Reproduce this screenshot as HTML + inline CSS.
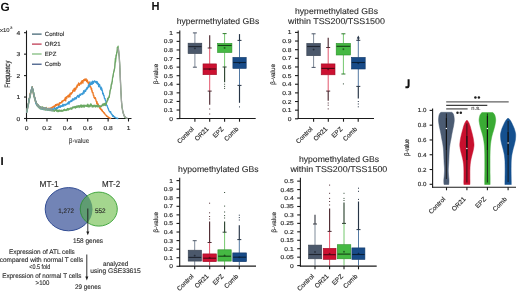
<!DOCTYPE html>
<html><head><meta charset="utf-8"><style>
html,body{margin:0;padding:0;background:#fff;}
body{width:520px;height:293px;overflow:hidden;}
svg{display:block;font-family:"Liberation Sans", sans-serif;text-rendering:geometricPrecision;-webkit-font-smoothing:antialiased;will-change:transform;}
</style></head><body>
<svg width="520" height="293" viewBox="0 0 520 293">
<rect width="520" height="293" fill="#fff"/>
<text font-size="11.8" fill="#111" transform="translate(0.5 10.7)" font-weight="bold">G</text>
<text font-size="5.5" fill="#2a2a2a" transform="translate(0 32) scale(1.08 1)" stroke="#2a2a2a" stroke-width="0.1">x10</text>
<text font-size="3.6" fill="#2a2a2a" transform="translate(10.2 29.4) scale(1.1 1)" stroke="#2a2a2a" stroke-width="0.08">3</text>
<line x1="26.5" y1="30.5" x2="26.5" y2="119" stroke="#1a1a1a" stroke-width="1.1"/>
<line x1="26" y1="118.5" x2="131.5" y2="118.5" stroke="#1a1a1a" stroke-width="1.1"/>
<line x1="24" y1="118.5" x2="26.5" y2="118.5" stroke="#1a1a1a" stroke-width="1.1"/>
<text font-size="5.8" fill="#2a2a2a" transform="translate(20.3 120.5) scale(1.15 1)" text-anchor="end" stroke="#2a2a2a" stroke-width="0.15">0</text>
<line x1="24" y1="97.05" x2="26.5" y2="97.05" stroke="#1a1a1a" stroke-width="1.1"/>
<text font-size="5.8" fill="#2a2a2a" transform="translate(20.3 99.05) scale(1.15 1)" text-anchor="end" stroke="#2a2a2a" stroke-width="0.15">1</text>
<line x1="24" y1="75.6" x2="26.5" y2="75.6" stroke="#1a1a1a" stroke-width="1.1"/>
<text font-size="5.8" fill="#2a2a2a" transform="translate(20.3 77.6) scale(1.15 1)" text-anchor="end" stroke="#2a2a2a" stroke-width="0.15">2</text>
<line x1="24" y1="54.15" x2="26.5" y2="54.15" stroke="#1a1a1a" stroke-width="1.1"/>
<text font-size="5.8" fill="#2a2a2a" transform="translate(20.3 56.15) scale(1.15 1)" text-anchor="end" stroke="#2a2a2a" stroke-width="0.15">3</text>
<line x1="24" y1="32.7" x2="26.5" y2="32.7" stroke="#1a1a1a" stroke-width="1.1"/>
<text font-size="5.8" fill="#2a2a2a" transform="translate(20.3 34.7) scale(1.15 1)" text-anchor="end" stroke="#2a2a2a" stroke-width="0.15">4</text>
<line x1="26.6" y1="118.5" x2="26.6" y2="121.5" stroke="#1a1a1a" stroke-width="1.1"/>
<text font-size="5.8" fill="#2a2a2a" transform="translate(26.6 130.2) scale(1.15 1)" text-anchor="middle" stroke="#2a2a2a" stroke-width="0.15">0</text>
<line x1="46.98" y1="118.5" x2="46.98" y2="121.5" stroke="#1a1a1a" stroke-width="1.1"/>
<text font-size="5.8" fill="#2a2a2a" transform="translate(46.98 130.2) scale(1.15 1)" text-anchor="middle" stroke="#2a2a2a" stroke-width="0.15">0.2</text>
<line x1="67.36" y1="118.5" x2="67.36" y2="121.5" stroke="#1a1a1a" stroke-width="1.1"/>
<text font-size="5.8" fill="#2a2a2a" transform="translate(67.36 130.2) scale(1.15 1)" text-anchor="middle" stroke="#2a2a2a" stroke-width="0.15">0.4</text>
<line x1="87.74" y1="118.5" x2="87.74" y2="121.5" stroke="#1a1a1a" stroke-width="1.1"/>
<text font-size="5.8" fill="#2a2a2a" transform="translate(87.74 130.2) scale(1.15 1)" text-anchor="middle" stroke="#2a2a2a" stroke-width="0.15">0.6</text>
<line x1="108.12" y1="118.5" x2="108.12" y2="121.5" stroke="#1a1a1a" stroke-width="1.1"/>
<text font-size="5.8" fill="#2a2a2a" transform="translate(108.12 130.2) scale(1.15 1)" text-anchor="middle" stroke="#2a2a2a" stroke-width="0.15">0.8</text>
<line x1="128.5" y1="118.5" x2="128.5" y2="121.5" stroke="#1a1a1a" stroke-width="1.1"/>
<text font-size="5.8" fill="#2a2a2a" transform="translate(128.5 130.2) scale(1.15 1)" text-anchor="middle" stroke="#2a2a2a" stroke-width="0.15">1</text>
<text font-size="7" fill="#2a2a2a" textLength="20.3" lengthAdjust="spacingAndGlyphs" transform="translate(79 143.2)" text-anchor="middle" stroke="#2a2a2a" stroke-width="0.05">β-value</text>
<text font-size="6.2" fill="#2a2a2a" textLength="27" lengthAdjust="spacingAndGlyphs" transform="translate(9.8 74.2) scale(1.25 1) rotate(-90)" text-anchor="middle" stroke="#2a2a2a" stroke-width="0.15">Frequency</text>
<path d="M26.6 111.98 L26.88 110.52 L27.16 109.31 L27.44 108.47 L27.72 106.45 L28.01 105.26 L28.29 104.27 L28.57 102.53 L28.85 101.26 L29.13 99.88 L29.41 98.56 L29.69 96.92 L29.97 96.11 L30.25 94.56 L30.53 93.53 L30.82 91.94 L31.1 91.05 L31.38 90.08 L31.66 89.35 L31.94 88.41 L32.22 88.04 L32.5 88.57 L32.78 88.72 L33.06 90.16 L33.34 93.37 L33.63 94.28 L33.91 94.6 L34.19 95.88 L34.47 96.81 L34.75 98.03 L35.03 98.41 L35.31 100.79 L35.59 101.42 L35.87 101.25 L36.15 102.47 L36.44 103.1 L36.72 104.12 L37 105.05 L37.28 104.88 L37.56 105.3 L37.84 106.08 L38.12 106.18 L38.4 106.24 L38.68 106.78 L38.96 106.73 L39.25 106.88 L39.53 107.1 L39.81 107.44 L40.09 107.25 L40.37 107.3 L40.65 107.6 L40.93 108.05 L41.21 107.66 L41.49 108.11 L41.77 107.76 L42.06 108.42 L42.34 107.87 L42.62 108.21 L42.9 108.63 L43.18 108.4 L43.46 108.33 L43.74 108.31 L44.02 108.74 L44.3 108.83 L44.58 108.49 L44.87 108.75 L45.15 108.61 L45.43 108.53 L45.71 109.31 L45.99 108.83 L46.27 108.63 L46.55 109.15 L46.83 109.38 L47.11 109.01 L47.39 109.23 L47.68 109.13 L47.96 109.56 L48.24 109.95 L48.52 109.63 L48.8 109.79 L49.08 109.5 L49.36 109.72 L49.64 110.28 L49.92 110.21 L50.2 109.69 L50.49 109.8 L50.77 110.21 L51.05 110.08 L51.33 110 L51.61 110.04 L51.89 109.97 L52.17 110.18 L52.45 110.31 L52.73 110.38 L53.01 110.06 L53.3 110.98 L53.58 110.43 L53.86 110.41 L54.14 110.83 L54.42 110.38 L54.7 110.67 L54.98 110.28 L55.26 110.57 L55.54 110.38 L55.82 110.26 L56.11 110.5 L56.39 110.86 L56.67 111.05 L56.95 110.2 L57.23 110.71 L57.51 110.88 L57.79 110.67 L58.07 110.78 L58.35 110.51 L58.63 110.74 L58.92 110.75 L59.2 110.95 L59.48 110.65 L59.76 111.05 L60.04 110.6 L60.32 110.37 L60.6 111.18 L60.88 111.41 L61.16 110.58 L61.44 110.04 L61.73 110.95 L62.01 110.99 L62.29 110.46 L62.57 110.8 L62.85 110.66 L63.13 110.57 L63.41 110.27 L63.69 110.47 L63.97 110.22 L64.25 110.28 L64.54 110.4 L64.82 110.19 L65.1 110.3 L65.38 109.97 L65.66 110.21 L65.94 110.14 L66.22 109.35 L66.5 109.71 L66.78 109.64 L67.06 109.41 L67.35 109.61 L67.63 109.49 L67.91 109.23 L68.19 109.2 L68.47 109.53 L68.75 108.87 L69.03 109.19 L69.31 109.23 L69.59 109.09 L69.87 108.84 L70.16 108.14 L70.44 108.87 L70.72 108.37 L71 108.96 L71.28 108.21 L71.56 107.83 L71.84 108.07 L72.12 108.09 L72.4 107.72 L72.68 107.48 L72.97 107.39 L73.25 106.89 L73.53 107.35 L73.81 107.51 L74.09 107.28 L74.37 107.19 L74.65 107.06 L74.93 107.04 L75.21 106.92 L75.49 107.46 L75.78 106.61 L76.06 107.01 L76.34 107.16 L76.62 106.53 L76.9 106.27 L77.18 106.49 L77.46 106.56 L77.74 106.87 L78.02 105.6 L78.31 106.21 L78.59 106.83 L78.87 106.68 L79.15 106.36 L79.43 106.87 L79.71 106.27 L79.99 106.45 L80.27 105.86 L80.55 105.92 L80.83 107.11 L81.12 106.17 L81.4 106.69 L81.68 105.77 L81.96 106.06 L82.24 105.91 L82.52 106.42 L82.8 105.44 L83.08 105.36 L83.36 106.36 L83.64 105.86 L83.93 106.19 L84.21 105.96 L84.49 106.35 L84.77 105.28 L85.05 106.21 L85.33 105.97 L85.61 105.68 L85.89 106.05 L86.17 105.9 L86.45 105.99 L86.74 105.83 L87.02 106.16 L87.3 105.9 L87.58 105.8 L87.86 105.83 L88.14 105.69 L88.42 105.79 L88.7 105.43 L88.98 105.78 L89.26 105.71 L89.55 105.88 L89.83 105.83 L90.11 106.07 L90.39 105.46 L90.67 106.02 L90.95 105.88 L91.23 105.51 L91.51 105.49 L91.79 105.77 L92.07 106.32 L92.36 105.51 L92.64 105.58 L92.92 106.16 L93.2 105.44 L93.48 105.95 L93.76 106.11 L94.04 105.72 L94.32 105.84 L94.6 105.73 L94.88 106.36 L95.17 105.24 L95.45 106.07 L95.73 106.41 L96.01 105.71 L96.29 106.06 L96.57 105.85 L96.85 106.09 L97.13 106.02 L97.41 105.93 L97.69 106.28 L97.98 105.81 L98.26 106.21 L98.54 106.34 L98.82 106.03 L99.1 105.91 L99.38 106.12 L99.66 106.31 L99.94 105.78 L100.22 106.53 L100.5 106.23 L100.79 105.81 L101.07 106.2 L101.35 105.65 L101.63 105.59 L101.91 105.17 L102.19 105.68 L102.47 105.48 L102.75 105.03 L103.03 105.87 L103.31 103.82 L103.6 105.01 L103.88 104.89 L104.16 104.2 L104.44 104.35 L104.72 104.77 L105 103.67 L105.28 103.33 L105.56 103.51 L105.84 103.13 L106.12 102.5 L106.41 102.66 L106.69 101.76 L106.97 101.43 L107.25 101.27 L107.53 100.99 L107.81 99.88 L108.09 99.45 L108.37 97.9 L108.65 97.44 L108.93 96.29 L109.22 95.66 L109.5 94.54 L109.78 93.81 L110.06 91.79 L110.34 89.82 L110.62 89.39 L110.9 88.06 L111.18 86.38 L111.46 85.11 L111.74 83.77 L112.03 81.81 L112.31 80.53 L112.59 77.98 L112.87 77.25 L113.15 75.45 L113.43 73.42 L113.71 72.54 L113.99 69.73 L114.27 69.33 L114.55 67.56 L114.84 65.21 L115.12 62.9 L115.4 61.69 L115.68 58.72 L115.96 58.1 L116.24 54.34 L116.52 54.1 L116.8 53.18 L117.08 52.09 L117.36 50.51 L117.65 49.41 L117.93 49.34 L118.21 48.89 L118.49 48.65 L118.77 50.67 L119.05 52.35 L119.33 55.5 L119.61 61.32 L119.89 68.12 L120.17 76.69 L120.46 81.82 L120.74 88.26 L121.02 93.66 L121.3 97.69 L121.58 102.36 L121.86 104.06 L122.14 106.82 L122.42 108.24 L122.7 110.42 L122.98 111.52 L123.27 112.54 L123.55 113.52 L123.83 114.56 L124.11 115.46 L124.39 115.96 L124.67 116.13 L124.95 116.58 L125.23 117.07 L125.51 116.97 L125.79 117.25 L126.08 117.43 L126.36 117.78 L126.64 117.88 L126.92 118.24 L127.2 118.29 L127.48 118.5" stroke="#a0a4a0" stroke-width="1.1" fill="none" stroke-linejoin="round" opacity="1"/>
<path d="M26.6 112.34 L26.84 111.03 L27.07 109.02 L27.31 108.38 L27.54 108.5 L27.78 106.49 L28.01 105.74 L28.25 104.16 L28.48 104.17 L28.72 101.86 L28.96 100.7 L29.19 98.56 L29.43 98.25 L29.66 96.91 L29.9 97.29 L30.13 93.24 L30.37 95.53 L30.61 92.12 L30.84 92.4 L31.08 91.9 L31.31 90.76 L31.55 89.9 L31.78 88.27 L32.02 88.26 L32.25 86.72 L32.49 90.04 L32.73 89.15 L32.96 90.94 L33.2 90.66 L33.43 94.27 L33.67 93.85 L33.9 94.34 L34.14 96.65 L34.37 95.74 L34.61 97.39 L34.85 97.79 L35.08 98.79 L35.32 101.05 L35.55 101.7 L35.79 101.95 L36.02 101.9 L36.26 102.4 L36.49 103.93 L36.73 104.34 L36.97 104.9 L37.2 105.17 L37.44 105.31 L37.67 105.56 L37.91 104.52 L38.14 106.27 L38.38 106.36 L38.62 106.15 L38.85 107.15 L39.09 107 L39.32 106.96 L39.56 106.7 L39.79 108 L40.03 106.66 L40.26 107.72 L40.5 107.54 L40.74 107.27 L40.97 107.45 L41.21 107.31 L41.44 107.86 L41.68 108.04 L41.91 107.92 L42.15 108.68 L42.38 107.57 L42.62 108.68 L42.86 108.99 L43.09 107.29 L43.33 108.49 L43.56 109.08 L43.8 107.53 L44.03 108.7 L44.27 108.01 L44.5 109.02 L44.74 108.74 L44.98 109.51 L45.21 109.65 L45.45 109.18 L45.68 108.73 L45.92 108.3 L46.15 107.47 L46.39 109.28 L46.63 108.24 L46.86 109.09 L47.1 108.87 L47.33 109.57 L47.57 109.58 L47.8 109.22 L48.04 109.45 L48.27 108.84 L48.51 109.2 L48.75 108.2 L48.98 108.77 L49.22 108.76 L49.45 108.23 L49.69 108.52 L49.92 108.75 L50.16 108.72 L50.39 108.66 L50.63 107.95 L50.87 108 L51.1 108.12 L51.34 107.78 L51.57 108.37 L51.81 107.69 L52.04 108.6 L52.28 106.97 L52.51 107.52 L52.75 107.34 L52.99 106.98 L53.22 107.18 L53.46 107.19 L53.69 106.25 L53.93 106.73 L54.16 107.2 L54.4 106.31 L54.64 107.42 L54.87 105.37 L55.11 106.3 L55.34 106.04 L55.58 104.63 L55.81 104.55 L56.05 105.62 L56.28 105.18 L56.52 104.77 L56.76 104.27 L56.99 105.22 L57.23 104.92 L57.46 104.11 L57.7 104.55 L57.93 104.1 L58.17 104.04 L58.4 104.97 L58.64 104.65 L58.88 105.62 L59.11 103.97 L59.35 102.81 L59.58 104.2 L59.82 102.55 L60.05 102.53 L60.29 103.05 L60.53 102.85 L60.76 102.63 L61 103.08 L61.23 102.52 L61.47 102.19 L61.7 101.58 L61.94 101.27 L62.17 102.12 L62.41 100.88 L62.65 101.78 L62.88 101.18 L63.12 100.62 L63.35 100.7 L63.59 100.58 L63.82 100.1 L64.06 100.48 L64.29 100.36 L64.53 99.84 L64.77 98.8 L65 99.36 L65.24 97.7 L65.47 98.71 L65.71 100.83 L65.94 98.77 L66.18 97.01 L66.41 98.02 L66.65 98.13 L66.89 98.24 L67.12 96.38 L67.36 96.39 L67.59 96.42 L67.83 96.39 L68.06 95.38 L68.3 95.63 L68.54 97 L68.77 95.21 L69.01 95.45 L69.24 95.43 L69.48 94.5 L69.71 94.84 L69.95 96.96 L70.18 93.11 L70.42 93.27 L70.66 93.95 L70.89 93.9 L71.13 93.15 L71.36 94.13 L71.6 92.55 L71.83 92.74 L72.07 92.58 L72.3 92.79 L72.54 92.32 L72.78 90.54 L73.01 90.08 L73.25 90.52 L73.48 90.73 L73.72 91.18 L73.95 89.54 L74.19 88.49 L74.42 91.06 L74.66 88.35 L74.9 91.04 L75.13 89.17 L75.37 88.28 L75.6 89.6 L75.84 89.49 L76.07 87.7 L76.31 86.81 L76.55 87.78 L76.78 85.86 L77.02 87.54 L77.25 84.94 L77.49 86.18 L77.72 85.81 L77.96 85.19 L78.19 85.2 L78.43 83.5 L78.67 82.9 L78.9 84.21 L79.14 84.63 L79.37 85.35 L79.61 84.71 L79.84 83.75 L80.08 83.63 L80.31 83.35 L80.55 83.09 L80.79 82.41 L81.02 84.02 L81.26 83.52 L81.49 81.24 L81.73 81.35 L81.96 82.54 L82.2 80.56 L82.43 82.33 L82.67 81.74 L82.91 83.13 L83.14 80.31 L83.38 81.01 L83.61 79.78 L83.85 80.01 L84.08 80.5 L84.32 80.33 L84.56 79.21 L84.79 80.52 L85.03 80.47 L85.26 80.24 L85.5 79.53 L85.73 79.48 L85.97 78.58 L86.2 80.72 L86.44 79.54 L86.68 81.66 L86.91 80.62 L87.15 81.34 L87.38 80.02 L87.62 81.43 L87.85 82.77 L88.09 82.09 L88.32 82.65 L88.56 83.64 L88.8 83.97 L89.03 84.95 L89.27 81.79 L89.5 84.65 L89.74 84.23 L89.97 86.63 L90.21 87 L90.45 86.65 L90.68 87.21 L90.92 86.96 L91.15 89.24 L91.39 88.54 L91.62 88.4 L91.86 91.24 L92.09 90.4 L92.33 92.71 L92.57 92.34 L92.8 93.04 L93.04 92.62 L93.27 95.24 L93.51 95.18 L93.74 95.08 L93.98 97.33 L94.21 96.97 L94.45 98.13 L94.69 98.52 L94.92 98 L95.16 98.49 L95.39 97.65 L95.63 99.01 L95.86 99.56 L96.1 101.04 L96.33 101.6 L96.57 101.76 L96.81 103.8 L97.04 101.66 L97.28 103.61 L97.51 104.27 L97.75 104.31 L97.98 103.89 L98.22 104.08 L98.46 105.46 L98.69 105.36 L98.93 106.04 L99.16 106.95 L99.4 106.64 L99.63 107.09 L99.87 108.3 L100.1 107.21 L100.34 108.98 L100.58 108.36 L100.81 109.35 L101.05 109.55 L101.28 109.8 L101.52 109.42 L101.75 110.69 L101.99 110.48 L102.22 109.97 L102.46 111.31 L102.7 111.3 L102.93 111.29 L103.17 112.12 L103.4 111.95 L103.64 112.71 L103.87 112.43 L104.11 112.97 L104.34 113.64 L104.58 113.03 L104.82 113.88 L105.05 114.23 L105.29 114.74 L105.52 114.86 L105.76 115.02 L105.99 115.21 L106.23 115.2 L106.47 116.17 L106.7 116.13 L106.94 115.95 L107.17 116.45 L107.41 116.6 L107.64 116.52 L107.88 116.98 L108.11 117.11 L108.35 117.35 L108.59 117.13 L108.82 117.41 L109.06 117.86 L109.29 117.76 L109.53 118.15 L109.76 117.91 L110 118.08 L110.23 118.28 L110.47 118.39 L110.71 118.5 L110.94 118.37 L111.18 118.5" stroke="#ed7a26" stroke-width="1.3" fill="none" stroke-linejoin="round" opacity="1"/>
<path d="M26.6 111.2 L26.86 112.03 L27.11 109.44 L27.37 108.73 L27.62 107.48 L27.88 106.14 L28.13 106.04 L28.39 103.74 L28.64 102.96 L28.9 98.87 L29.15 99.7 L29.41 98.83 L29.67 97.49 L29.92 96.54 L30.18 95.67 L30.43 94.04 L30.69 92.32 L30.94 91.91 L31.2 89.82 L31.45 89.82 L31.71 88.78 L31.96 86.85 L32.22 87.55 L32.48 88.82 L32.73 89.33 L32.99 89.82 L33.24 89.91 L33.5 93.04 L33.75 94.11 L34.01 94.14 L34.26 96.71 L34.52 97.35 L34.77 97.57 L35.03 98.86 L35.29 100.19 L35.54 100.66 L35.8 103.73 L36.05 101.79 L36.31 103.68 L36.56 104.68 L36.82 103.96 L37.07 104.17 L37.33 105.28 L37.58 106.01 L37.84 105.65 L38.1 105.95 L38.35 105.36 L38.61 105.97 L38.86 106.51 L39.12 106.19 L39.37 107.12 L39.63 107.69 L39.88 107.01 L40.14 107.15 L40.39 107.71 L40.65 108.12 L40.91 107.66 L41.16 109.21 L41.42 107.57 L41.67 107.74 L41.93 108.94 L42.18 108.09 L42.44 108.69 L42.69 107.83 L42.95 109.35 L43.2 108.8 L43.46 107.99 L43.72 107.8 L43.97 109.58 L44.23 108.76 L44.48 108.37 L44.74 108.91 L44.99 107.82 L45.25 109.32 L45.5 108.58 L45.76 109.37 L46.01 108.18 L46.27 108.99 L46.53 109.24 L46.78 109.99 L47.04 108.33 L47.29 108.87 L47.55 108.93 L47.8 108.79 L48.06 109.23 L48.31 109.76 L48.57 109.87 L48.82 109.89 L49.08 108.81 L49.34 110.22 L49.59 109.78 L49.85 109.64 L50.1 109.35 L50.36 109.17 L50.61 110.06 L50.87 110.29 L51.12 109.4 L51.38 108.77 L51.64 108.98 L51.89 109.22 L52.15 109.46 L52.4 109.13 L52.66 109.37 L52.91 108.8 L53.17 109.59 L53.42 109.09 L53.68 109.18 L53.93 108.81 L54.19 108.94 L54.45 107.71 L54.7 108.19 L54.96 108.13 L55.21 109.88 L55.47 108.93 L55.72 108.98 L55.98 108.3 L56.23 109.68 L56.49 107.76 L56.74 107.71 L57 108.86 L57.26 108.58 L57.51 108.37 L57.77 107.8 L58.02 107.36 L58.28 106.47 L58.53 107.57 L58.79 106.92 L59.04 107.14 L59.3 106.13 L59.55 106.58 L59.81 106.11 L60.07 107.38 L60.32 106.77 L60.58 107.02 L60.83 105.59 L61.09 105.97 L61.34 106.42 L61.6 106.4 L61.85 105.75 L62.11 106.34 L62.36 106.37 L62.62 105.43 L62.88 104.15 L63.13 105.65 L63.39 105.73 L63.64 105.99 L63.9 105.98 L64.15 104.75 L64.41 104.44 L64.66 104.84 L64.92 104.53 L65.17 104.55 L65.43 104.42 L65.69 105.33 L65.94 104.55 L66.2 104.08 L66.45 104.52 L66.71 104.21 L66.96 104.3 L67.22 103.87 L67.47 102.98 L67.73 103.66 L67.98 103.36 L68.24 102.61 L68.5 102.58 L68.75 101.75 L69.01 104.07 L69.26 102 L69.52 102.73 L69.77 102.17 L70.03 101.55 L70.28 101.22 L70.54 101.09 L70.79 101.52 L71.05 100.36 L71.31 101.48 L71.56 101.21 L71.82 100.39 L72.07 101.15 L72.33 99.1 L72.58 99.71 L72.84 98.72 L73.09 100.08 L73.35 100.15 L73.6 99.58 L73.86 99 L74.12 99.76 L74.37 98.88 L74.63 98.98 L74.88 97.61 L75.14 99.09 L75.39 97.65 L75.65 98.71 L75.9 98.77 L76.16 98.4 L76.41 98.58 L76.67 97.4 L76.93 96.54 L77.18 97.01 L77.44 96.48 L77.69 95.52 L77.95 96.37 L78.2 96.24 L78.46 96.41 L78.71 97.26 L78.97 95.23 L79.22 97 L79.48 94.92 L79.74 95.24 L79.99 94.14 L80.25 94.89 L80.5 95.29 L80.76 94.14 L81.01 94.67 L81.27 94.16 L81.52 93.77 L81.78 93.7 L82.03 93.53 L82.29 93.84 L82.55 93.09 L82.8 94.48 L83.06 92.61 L83.31 93.25 L83.57 91.08 L83.82 90.7 L84.08 93.17 L84.33 91.13 L84.59 91.08 L84.84 91.6 L85.1 89.94 L85.36 90.51 L85.61 91.36 L85.87 89.74 L86.12 89.34 L86.38 88.8 L86.63 89.69 L86.89 87.74 L87.14 87.32 L87.4 88.73 L87.65 87.99 L87.91 87.18 L88.17 87.34 L88.42 84.94 L88.68 86.08 L88.93 86.96 L89.19 86.51 L89.44 85.59 L89.7 83.16 L89.95 85.27 L90.21 84.76 L90.46 84.17 L90.72 84.47 L90.98 82.02 L91.23 84.47 L91.49 83.02 L91.74 83.36 L92 82.69 L92.25 84.23 L92.51 81.17 L92.76 82.83 L93.02 82.51 L93.27 83.32 L93.53 82.99 L93.79 81.62 L94.04 81.13 L94.3 81.31 L94.55 80.84 L94.81 81.35 L95.06 82.07 L95.32 81.35 L95.57 81.7 L95.83 82.51 L96.09 81.85 L96.34 81.48 L96.6 82.7 L96.85 83.49 L97.11 82.68 L97.36 81.78 L97.62 84.06 L97.87 84.21 L98.13 84.51 L98.38 83.49 L98.64 86.66 L98.9 84.85 L99.15 84.36 L99.41 86.54 L99.66 84.74 L99.92 86 L100.17 87.4 L100.43 87.13 L100.68 89.15 L100.94 88.74 L101.19 87.1 L101.45 90.03 L101.71 88.15 L101.96 90.39 L102.22 90.03 L102.47 91.42 L102.73 93.94 L102.98 93.13 L103.24 93.14 L103.49 94.95 L103.75 95.87 L104 95.34 L104.26 96.98 L104.52 98.63 L104.77 98.73 L105.03 98.45 L105.28 100.26 L105.54 100.19 L105.79 100.73 L106.05 102.67 L106.3 104.32 L106.56 105.27 L106.81 105.28 L107.07 105.47 L107.33 106.46 L107.58 106.92 L107.84 108.04 L108.09 108.19 L108.35 109.12 L108.6 109.55 L108.86 110.5 L109.11 111.09 L109.37 111.01 L109.62 111.71 L109.88 112.05 L110.14 111.74 L110.39 112.46 L110.65 111.63 L110.9 112.81 L111.16 113.77 L111.41 113.6 L111.67 114.09 L111.92 114.77 L112.18 114.48 L112.43 115.38 L112.69 116.34 L112.95 115.44 L113.2 116.09 L113.46 115.74 L113.71 116.54 L113.97 116.89 L114.22 116.45 L114.48 117.26 L114.73 117.17 L114.99 117.11 L115.24 117.55 L115.5 117.74 L115.76 117.84 L116.01 117.84 L116.27 118.19 L116.52 118.06 L116.78 118.15 L117.03 118 L117.29 118.4 L117.54 118.5 L117.8 118.38 L118.05 118.5 L118.31 118.47" stroke="#3a9ad6" stroke-width="1.3" fill="none" stroke-linejoin="round" opacity="1"/>
<path d="M26.6 111.97 L26.88 111.02 L27.16 109.67 L27.43 109.6 L27.71 105.63 L27.99 104.7 L28.27 104.39 L28.55 102.27 L28.83 101.29 L29.1 100.57 L29.38 97.9 L29.66 97.58 L29.94 96.24 L30.22 95.38 L30.49 93.04 L30.77 92.49 L31.05 90.73 L31.33 90.72 L31.61 88.99 L31.89 89.29 L32.16 87.18 L32.44 88.1 L32.72 88.8 L33 89.94 L33.28 92.7 L33.55 92.34 L33.83 92.33 L34.11 96.84 L34.39 98.08 L34.67 99.05 L34.95 98.24 L35.22 99.92 L35.5 100.14 L35.78 101.24 L36.06 102.32 L36.34 102.92 L36.61 103.85 L36.89 103.66 L37.17 105.55 L37.45 105.48 L37.73 105.37 L38 104.62 L38.28 106.61 L38.56 107.07 L38.84 106.97 L39.12 106.19 L39.4 107.17 L39.67 106.36 L39.95 108.55 L40.23 106.81 L40.51 107 L40.79 108.63 L41.06 107.74 L41.34 107.17 L41.62 107.94 L41.9 107.45 L42.18 106.67 L42.46 108.01 L42.73 108.39 L43.01 108.74 L43.29 107.93 L43.57 108.49 L43.85 108.52 L44.12 108.53 L44.4 108.13 L44.68 109.21 L44.96 109.55 L45.24 110.15 L45.52 108.07 L45.79 108.81 L46.07 108.04 L46.35 109.01 L46.63 109.52 L46.91 108.89 L47.18 109.29 L47.46 110.04 L47.74 109.91 L48.02 108.47 L48.3 109.34 L48.58 109.38 L48.85 109.83 L49.13 110.12 L49.41 109.28 L49.69 109.89 L49.97 110.31 L50.24 110.01 L50.52 110.49 L50.8 109.93 L51.08 109.46 L51.36 110.59 L51.64 109.39 L51.91 110.58 L52.19 110.17 L52.47 110.74 L52.75 110.44 L53.03 110.32 L53.3 110.6 L53.58 110.77 L53.86 110.78 L54.14 110.89 L54.42 111.31 L54.69 110.63 L54.97 110.3 L55.25 110.05 L55.53 110.21 L55.81 109.27 L56.09 110.43 L56.36 110.87 L56.64 109.65 L56.92 111.22 L57.2 110.16 L57.48 111.2 L57.75 110.52 L58.03 111.77 L58.31 110.26 L58.59 110.83 L58.87 111.27 L59.15 109.88 L59.42 110.37 L59.7 110.75 L59.98 111.17 L60.26 110.8 L60.54 110.86 L60.81 110.38 L61.09 110.32 L61.37 111.08 L61.65 110.99 L61.93 110.95 L62.21 111.35 L62.48 110.9 L62.76 110.59 L63.04 110.12 L63.32 109.72 L63.6 110.82 L63.87 110.02 L64.15 110.5 L64.43 109.06 L64.71 110.16 L64.99 109.79 L65.27 110.52 L65.54 110.38 L65.82 109.75 L66.1 110.01 L66.38 109.53 L66.66 110.54 L66.93 109.22 L67.21 110.04 L67.49 108.48 L67.77 109.56 L68.05 108.69 L68.33 110.04 L68.6 108.91 L68.88 109.58 L69.16 109.26 L69.44 108.86 L69.72 108.97 L69.99 108.53 L70.27 108.14 L70.55 108.09 L70.83 108.43 L71.11 109.1 L71.38 108.66 L71.66 108.18 L71.94 109.26 L72.22 107.39 L72.5 107.91 L72.78 107.82 L73.05 106.97 L73.33 107.06 L73.61 107.25 L73.89 107.94 L74.17 107.03 L74.44 106.93 L74.72 107.64 L75 106.35 L75.28 106.63 L75.56 108.17 L75.84 106.78 L76.11 107.63 L76.39 106.04 L76.67 106.21 L76.95 107.4 L77.23 107.22 L77.5 106.54 L77.78 106.72 L78.06 105.53 L78.34 106.01 L78.62 106.64 L78.9 106.04 L79.17 107.72 L79.45 106.15 L79.73 105.75 L80.01 106.41 L80.29 106.73 L80.56 105.86 L80.84 104.91 L81.12 106.05 L81.4 106.9 L81.68 105.18 L81.96 107.36 L82.23 105.76 L82.51 106.46 L82.79 105.43 L83.07 106.59 L83.35 105.13 L83.62 105.79 L83.9 107.12 L84.18 107.27 L84.46 106.14 L84.74 105.05 L85.02 105.81 L85.29 105.83 L85.57 106.01 L85.85 105.34 L86.13 105.57 L86.41 105.61 L86.68 106.45 L86.96 104.97 L87.24 104.84 L87.52 106.61 L87.8 104.17 L88.07 105.22 L88.35 106.03 L88.63 106.97 L88.91 105.23 L89.19 105.29 L89.47 106.06 L89.74 106.86 L90.02 104.88 L90.3 106.04 L90.58 105.95 L90.86 103.71 L91.13 104.19 L91.41 104.99 L91.69 105.94 L91.97 105.2 L92.25 107.19 L92.53 105.59 L92.8 106.19 L93.08 106.56 L93.36 106.77 L93.64 105.37 L93.92 105.69 L94.19 105.66 L94.47 105.22 L94.75 106.38 L95.03 106.66 L95.31 107.05 L95.59 106.11 L95.86 105.4 L96.14 106.03 L96.42 105.52 L96.7 106.76 L96.98 106.3 L97.25 106.52 L97.53 106.85 L97.81 104.8 L98.09 105.48 L98.37 106.56 L98.65 106.57 L98.92 106.1 L99.2 107.01 L99.48 105.75 L99.76 106.87 L100.04 106.22 L100.31 106.61 L100.59 106.19 L100.87 106.69 L101.15 106.78 L101.43 106.29 L101.71 106.01 L101.98 105.65 L102.26 105.3 L102.54 104.19 L102.82 104.56 L103.1 105.17 L103.37 104.37 L103.65 105.22 L103.93 103.6 L104.21 104.08 L104.49 105.26 L104.76 103.56 L105.04 103.27 L105.32 105.55 L105.6 103.85 L105.88 103.34 L106.16 104.09 L106.43 103.08 L106.71 102.61 L106.99 101.07 L107.27 100.73 L107.55 98.3 L107.82 100.08 L108.1 98.1 L108.38 98.23 L108.66 97.25 L108.94 97.64 L109.22 97.42 L109.49 95.37 L109.77 92.76 L110.05 90.64 L110.33 90.16 L110.61 88.8 L110.88 88.71 L111.16 84.78 L111.44 83.52 L111.72 84.1 L112 82.09 L112.28 81.68 L112.55 77.29 L112.83 76.97 L113.11 75.99 L113.39 73.76 L113.67 72.06 L113.94 71.47 L114.22 70.86 L114.5 69.13 L114.78 67.84 L115.06 62.83 L115.34 58.31 L115.61 61.86 L115.89 57.34 L116.17 55.2 L116.45 55.67 L116.73 52.16 L117 52.41 L117.28 47.31 L117.56 48.86 L117.84 47.04 L118.12 46.16 L118.4 49.43 L118.67 54.12 L118.95 55.24 L119.23 56.59 L119.51 61.9 L119.79 66.23 L120.06 73.11 L120.34 78.07 L120.62 84.64 L120.9 91.33 L121.18 94.62 L121.45 100.87 L121.73 104.99 L122.01 107.77 L122.29 108.1 L122.57 110.58 L122.85 111.55 L123.12 113.05 L123.4 113.55 L123.68 114.49 L123.96 115.74 L124.24 116.09 L124.51 116.34 L124.79 117.35 L125.07 117.04 L125.35 117.43 L125.63 117.78 L125.91 118.23 L126.18 118.34 L126.46 118.5" stroke="#6aaa62" stroke-width="1.2" fill="none" stroke-linejoin="round" opacity="1"/>
<path d="M118 47.72 L118.03 47.8 L118.06 47.9 L118.08 48 L118.11 48.11 L118.14 48.23 L118.16 48.35 L118.19 48.48 L118.22 48.62 L118.24 48.76 L118.27 48.91 L118.29 49.07 L118.32 49.23 L118.35 49.4 L118.37 49.58 L118.4 49.76 L118.43 49.94 L118.45 50.13 L118.48 50.33 L118.51 50.53 L118.53 50.74 L118.56 50.95 L118.59 51.16 L118.61 51.38 L118.64 51.6 L118.66 51.83 L118.69 52.06 L118.72 52.29 L118.74 52.53 L118.77 52.77 L118.8 53.02 L118.82 53.26 L118.85 53.51 L118.88 53.77 L118.9 54.02 L118.93 54.28 L118.95 54.54 L118.98 54.8 L119.01 55.06 L119.03 55.33 L119.06 55.6 L119.09 55.89 L119.11 56.19 L119.14 56.49 L119.17 56.81 L119.19 57.14 L119.22 57.47 L119.24 57.82 L119.27 58.17 L119.3 58.54 L119.32 58.91 L119.35 59.29 L119.38 59.68 L119.4 60.07 L119.43 60.47 L119.46 60.89 L119.48 61.3 L119.51 61.73 L119.54 62.16 L119.56 62.59 L119.59 63.04 L119.61 63.48 L119.64 63.94 L119.67 64.4 L119.69 64.86 L119.72 65.33 L119.75 65.8 L119.77 66.28 L119.8 66.76 L119.83 67.24 L119.85 67.73 L119.88 68.22 L119.9 68.71 L119.93 69.21 L119.96 69.7 L119.98 70.2 L120.01 70.7 L120.04 71.21 L120.06 71.72 L120.09 72.25 L120.12 72.81 L120.14 73.39 L120.17 73.98 L120.2 74.59 L120.22 75.22 L120.25 75.86 L120.27 76.52 L120.3 77.18 L120.33 77.85 L120.35 78.53 L120.38 79.22 L120.41 79.9 L120.43 80.59 L120.46 81.29 L120.49 81.97 L120.51 82.66 L120.54 83.34 L120.56 84.02 L120.59 84.69 L120.62 85.35 L120.64 85.99 L120.67 86.63 L120.7 87.25 L120.72 87.85 L120.75 88.44 L120.78 89.01 L120.8 89.55 L120.83 90.07 L120.86 90.57 L120.88 91.06 L120.91 91.54 L120.93 92.02 L120.96 92.5 L120.99 92.98 L121.01 93.45 L121.04 93.92 L121.07 94.39 L121.09 94.86 L121.12 95.32 L121.15 95.78 L121.17 96.24 L121.2 96.68 L121.22 97.13 L121.25 97.57 L121.28 98 L121.3 98.43 L121.33 98.85 L121.36 99.27 L121.38 99.68 L121.41 100.08 L121.44 100.47 L121.46 100.86 L121.49 101.23 L121.52 101.6 L121.54 101.96 L121.57 102.32 L121.59 102.66 L121.62 102.99 L121.65 103.31 L121.67 103.62 L121.7 103.92 L121.73 104.21 L121.75 104.49 L121.78 104.76 L121.81 105.01 L121.83 105.25 L121.86 105.48 L121.88 105.7 L121.91 105.91 L121.94 106.12 L121.96 106.32 L121.99 106.52 L122.02 106.72 L122.04 106.92 L122.07 107.12 L122.1 107.31 L122.12 107.5 L122.15 107.69 L122.18 107.87 L122.2 108.05 L122.23 108.23 L122.25 108.41 L122.28 108.58 L122.31 108.75 L122.33 108.92 L122.36 109.09 L122.39 109.25 L122.41 109.41 L122.44 109.57 L122.47 109.73 L122.49 109.88 L122.52 110.03 L122.54 110.18 L122.57 110.33 L122.6 110.47 L122.62 110.61 L122.65 110.75 L122.68 110.89 L122.7 111.02 L122.73 111.15 L122.76 111.28 L122.78 111.41 L122.81 111.54 L122.84 111.66 L122.86 111.78 L122.89 111.9 L122.91 112.01 L122.94 112.13 L122.97 112.24 L122.99 112.35 L123.02 112.46 L123.05 112.56 L123.07 112.67 L123.1 112.77 L123.13 112.86 L123.15 112.96 L123.18 113.06 L123.2 113.15 L123.23 113.24 L123.26 113.33 L123.28 113.41 L123.31 113.5 L123.34 113.58 L123.36 113.66 L123.39 113.74 L123.42 113.81 L123.44 113.89 L123.47 113.96 L123.49 114.03 L123.52 114.11 L123.55 114.18 L123.57 114.25 L123.6 114.32 L123.63 114.39 L123.65 114.46 L123.68 114.53 L123.71 114.59 L123.73 114.66 L123.76 114.72 L123.79 114.79 L123.81 114.85 L123.84 114.92 L123.86 114.98 L123.89 115.04 L123.92 115.1 L123.94 115.16 L123.97 115.22 L124 115.28 L124.02 115.33 L124.05 115.39 L124.08 115.44 L124.1 115.5 L124.13 115.55 L124.15 115.61 L124.18 115.66 L124.21 115.71 L124.23 115.76 L124.26 115.81 L124.29 115.86 L124.31 115.9 L124.34 115.95 L124.37 116 L124.39 116.04 L124.42 116.09 L124.45 116.13 L124.47 116.17 L124.5 116.22 L124.52 116.26 L124.55 116.3 L124.58 116.34 L124.6 116.38 L124.63 116.41 L124.66 116.45 L124.68 116.49 L124.71 116.52 L124.74 116.56 L124.76 116.59 L124.79 116.62 L124.81 116.65 L124.84 116.68 L124.87 116.71 L124.89 116.74 L124.92 116.77 L124.95 116.8 L124.97 116.82 L125 116.85 L125.03 116.88 L125.05 116.9 L125.08 116.93 L125.11 116.95 L125.13 116.97 L125.16 117 L125.18 117.02 L125.21 117.04 L125.24 117.06 L125.26 117.09 L125.29 117.11 L125.32 117.13 L125.34 117.15 L125.37 117.17 L125.4 117.19 L125.42 117.21 L125.45 117.23 L125.47 117.24 L125.5 117.26 L125.53 117.28 L125.55 117.3 L125.58 117.32 L125.61 117.33 L125.63 117.35 L125.66 117.37 L125.69 117.38 L125.71 117.4 L125.74 117.42 L125.77 117.43 L125.79 117.45 L125.82 117.47 L125.84 117.48 L125.87 117.5 L125.9 117.51 L125.92 117.53 L125.95 117.54 L125.98 117.56 L126 117.58 L126.03 117.59 L126.06 117.61 L126.08 117.62 L126.11 117.64 L126.13 117.65 L126.16 117.67 L126.19 117.68 L126.21 117.7 L126.24 117.72 L126.27 117.73 L126.29 117.75 L126.32 117.77 L126.35 117.78 L126.37 117.8 L126.4 117.82 L126.43 117.83 L126.45 117.85 L126.48 117.87 L126.5 117.88 L126.53 117.9 L126.56 117.92 L126.58 117.94 L126.61 117.95 L126.64 117.97 L126.66 117.99 L126.69 118.01 L126.72 118.02 L126.74 118.04 L126.77 118.06 L126.79 118.07 L126.82 118.09 L126.85 118.11 L126.87 118.12 L126.9 118.14 L126.93 118.16 L126.95 118.17 L126.98 118.19 L127.01 118.21 L127.03 118.22 L127.06 118.24 L127.09 118.26 L127.11 118.27 L127.14 118.29 L127.16 118.31 L127.19 118.32 L127.22 118.34 L127.24 118.36 L127.27 118.37 L127.3 118.39 L127.32 118.4 L127.35 118.42 L127.38 118.44 L127.4 118.45 L127.43 118.47 L127.45 118.48 L127.48 118.5" stroke="#a2a6a2" stroke-width="1.3" fill="none" stroke-linejoin="round" opacity="1"/>
<path d="M26.6 112.85 L26.67 112.59 L26.75 112.05 L26.82 111.58 L26.9 111.09 L26.97 110.94 L27.04 110.72 L27.12 110.42 L27.19 109.76 L27.26 109.22 L27.34 109.15 L27.41 109.14 L27.49 108.73 L27.56 107.8 L27.63 107.77 L27.71 107.87 L27.78 107.14 L27.85 107.05 L27.93 106.57 L28 106.19 L28.08 105.9 L28.15 105.23 L28.22 105.04 L28.3 104.82 L28.37 104.21 L28.44 103.75 L28.52 104.07 L28.59 103.34 L28.67 103.19 L28.74 102.62 L28.81 102.57 L28.89 101.84 L28.96 101.49 L29.04 101.2 L29.11 101.05 L29.18 100.48 L29.26 100.32 L29.33 100.03 L29.4 99.17 L29.48 99.21 L29.55 98.13 L29.63 97.9 L29.7 98.39 L29.77 97.3 L29.85 97.39 L29.92 96.66 L29.99 96.3 L30.07 96.63 L30.14 95.71 L30.22 95.38 L30.29 94.64 L30.36 95.05 L30.44 94.09 L30.51 94.42 L30.59 93.86 L30.66 93.76 L30.73 92.68 L30.81 92.7 L30.88 91.74 L30.95 92.07 L31.03 91.69 L31.1 91.38 L31.18 91.6 L31.25 91.11 L31.32 90.29 L31.4 90.65 L31.47 90.15 L31.54 89.97 L31.62 89.49 L31.69 89.63 L31.77 89.35 L31.84 89.03 L31.91 88.93 L31.99 89.17 L32.06 88.41 L32.13 89.2 L32.21 89.14 L32.28 89.2 L32.36 88.42 L32.43 89.05 L32.5 89.45 L32.58 89.72 L32.65 89.37 L32.73 90.19 L32.8 90.56 L32.87 90.18 L32.95 91.18 L33.02 91.21 L33.09 91.46 L33.17 91.99 L33.24 92.22 L33.32 92.09 L33.39 93.12 L33.46 93.74 L33.54 94.29 L33.61 94.05 L33.68 94.41 L33.76 94.48 L33.83 95.02 L33.91 95.32 L33.98 95.71 L34.05 95.94 L34.13 96.03 L34.2 96.52 L34.28 96.68 L34.35 96.41 L34.42 97.2 L34.5 98.18 L34.57 97.44 L34.64 98.2 L34.72 98.92 L34.79 98.66 L34.87 99.24 L34.94 99.74 L35.01 100.05 L35.09 100.45 L35.16 100.42 L35.23 100.39 L35.31 101.07 L35.38 101.11 L35.46 100.94 L35.53 102.07 L35.6 101.88 L35.68 102.25 L35.75 102.66 L35.82 102.84 L35.9 102.74 L35.97 102.8 L36.05 103.24 L36.12 103.26 L36.19 103.25 L36.27 103.54 L36.34 103.55 L36.42 103.82 L36.49 103.98 L36.56 103.78 L36.64 104.25 L36.71 104.53 L36.78 104.53 L36.86 105.09 L36.93 105.08 L37.01 104.92 L37.08 105.09 L37.15 104.98 L37.23 105.5 L37.3 105.98 L37.37 105.23 L37.45 105.55 L37.52 106.2 L37.6 105.68 L37.67 106.11 L37.74 106.65 L37.82 106.39 L37.89 106.49 L37.97 106.05 L38.04 106.7 L38.11 106.65 L38.19 106.72 L38.26 106.82 L38.33 107.02 L38.41 106.81 L38.48 106.67 L38.56 106.85 L38.63 107.29 L38.7 107.4 L38.78 107.16 L38.85 107.42 L38.92 107.46 L39 107.77 L39.07 106.97 L39.15 107.27 L39.22 107.77 L39.29 107.38 L39.37 107.33 L39.44 108.25 L39.51 107.87 L39.59 107.88 L39.66 107.69 L39.74 107.91 L39.81 107.98 L39.88 107.99 L39.96 107.59 L40.03 107.56 L40.11 108.21 L40.18 108.34 L40.25 107.55 L40.33 108.43 L40.4 108.37 L40.47 108.26 L40.55 108.19 L40.62 108.1 L40.7 108.27 L40.77 108.58 L40.84 108.3 L40.92 108.38 L40.99 108.04 L41.06 108.49 L41.14 108.81 L41.21 108.76 L41.29 108.22 L41.36 108.69 L41.43 109.06 L41.51 108.74 L41.58 108.63 L41.66 108.39 L41.73 108.9 L41.8 108.54 L41.88 108.53 L41.95 108.88 L42.02 108.78 L42.1 108.37 L42.17 108.39 L42.25 108.6 L42.32 108.73 L42.39 108.57 L42.47 108.87 L42.54 108.88 L42.61 109.06 L42.69 108.88 L42.76 108.92 L42.84 108.3 L42.91 108.97 L42.98 108.66 L43.06 108.66 L43.13 109.01 L43.2 108.72 L43.28 109.47 L43.35 108.99 L43.43 108.83 L43.5 109.56 L43.57 109.3 L43.65 108.83 L43.72 109.12 L43.8 109.32 L43.87 109.17 L43.94 109.22 L44.02 108.96 L44.09 109.03 L44.16 109.2 L44.24 109.3 L44.31 109.18 L44.39 108.89 L44.46 109.12 L44.53 109.07 L44.61 109.25 L44.68 109.51 L44.75 109.4 L44.83 109.12 L44.9 109.25 L44.98 109.48 L45.05 109.64 L45.12 109.29 L45.2 109.4 L45.27 109.41 L45.35 109.42 L45.42 109.3 L45.49 109.31 L45.57 109.18 L45.64 109.2 L45.71 109.12 L45.79 109.25 L45.86 109.51 L45.94 109.46 L46.01 109.35 L46.08 109.54 L46.16 109.36 L46.23 109.25 L46.3 109.68 L46.38 109.89 L46.45 109.27 L46.53 109.54 L46.6 109.4 L46.67 109.85 L46.75 109.21 L46.82 109.43 L46.89 109.62 L46.97 109.68 L47.04 109.6 L47.12 109.67 L47.19 109.7 L47.26 109.89 L47.34 109.4 L47.41 109.68 L47.49 109.67 L47.56 109.68 L47.63 110.21 L47.71 109.61 L47.78 109.8 L47.85 109.8 L47.93 109.74 L48 109.97 L48.08 109.6 L48.15 109.93 L48.22 109.99 L48.3 109.99 L48.37 109.79 L48.44 109.67 L48.52 109.97 L48.59 110.17 L48.67 109.64 L48.74 110.1 L48.81 109.64 L48.89 109.91 L48.96 110.06 L49.04 110.06 L49.11 109.84 L49.18 109.76 L49.26 110 L49.33 109.77 L49.4 109.55 L49.48 110.04 L49.55 110.24 L49.63 110.23 L49.7 110.32 L49.77 110.17 L49.85 110.2 L49.92 110.34 L49.99 109.96 L50.07 110.63 L50.14 110.37 L50.22 109.69 L50.29 109.91 L50.36 110.02 L50.44 110.05 L50.51 109.79 L50.58 110.06 L50.66 110.16 L50.73 110.44 L50.81 110.22 L50.88 110.36 L50.95 110.37 L51.03 110.38 L51.1 110.26 L51.18 110.33 L51.25 110.09 L51.32 110.55 L51.4 110.33 L51.47 109.93 L51.54 110.31 L51.62 110.09 L51.69 110.11 L51.77 110.09 L51.84 110.22 L51.91 110.66 L51.99 110.44 L52.06 110.48 L52.13 110.73 L52.21 110.52 L52.28 110.69 L52.36 110.78 L52.43 110.42 L52.5 110.48 L52.58 110.62 L52.65 110.69 L52.73 110.61 L52.8 110.6 L52.87 110.61 L52.95 110.55 L53.02 110.64 L53.09 110.49" stroke="#7fa596" stroke-width="1.4" fill="none" stroke-linejoin="round" opacity="0.9"/>
<path d="M26.6 111.44 L26.67 110.95 L26.75 111.44 L26.82 110.62 L26.9 110.03 L26.97 109.61 L27.04 109.4 L27.12 108.86 L27.19 108.78 L27.26 108.37 L27.34 108.1 L27.41 108.04 L27.49 107.64 L27.56 107 L27.63 106.88 L27.71 106.08 L27.78 105.72 L27.85 105.24 L27.93 105.35 L28 104.64 L28.08 104.88 L28.15 104.51 L28.22 103.92 L28.3 103.52 L28.37 103.69 L28.44 103.38 L28.52 102.45 L28.59 102.44 L28.67 101.5 L28.74 101.38 L28.81 101.05 L28.89 100.71 L28.96 100.14 L29.04 100.08 L29.11 99.33 L29.18 99.45 L29.26 98.99 L29.33 98.76 L29.4 97.98 L29.48 97.78 L29.55 97.7 L29.63 96.4 L29.7 96.8 L29.77 96.35 L29.85 95.82 L29.92 95.01 L29.99 95.3 L30.07 94.66 L30.14 94.52 L30.22 94.73 L30.29 93.62 L30.36 93.22 L30.44 93.35 L30.51 92.97 L30.59 93.21 L30.66 92.94 L30.73 92.26 L30.81 91.6 L30.88 91.7 L30.95 91.12 L31.03 90.57 L31.1 90.58 L31.18 90.1 L31.25 89.47 L31.32 90.18 L31.4 89.15 L31.47 89.87 L31.54 88.73 L31.62 88.57 L31.69 88.63 L31.77 88.64 L31.84 88.07 L31.91 88.05 L31.99 87.73 L32.06 88.04 L32.13 87.42 L32.21 88.01 L32.28 87.76 L32.36 87.87 L32.43 87.35 L32.5 88.59 L32.58 88.37 L32.65 88 L32.73 88.97 L32.8 89.49 L32.87 89.23 L32.95 89.78 L33.02 89.71 L33.09 90.73 L33.17 90.68 L33.24 90.88 L33.32 91.12 L33.39 92.27 L33.46 91.71 L33.54 92.89 L33.61 93.44 L33.68 93.55 L33.76 93.45 L33.83 93.9 L33.91 93.94 L33.98 94.22 L34.05 94.59 L34.13 95.09 L34.2 94.71 L34.28 96.38 L34.35 96.54 L34.42 96.45 L34.5 97.01 L34.57 97.75 L34.64 97.5 L34.72 97.8 L34.79 98.65 L34.87 97.91 L34.94 98.07 L35.01 98.4 L35.09 99.23 L35.16 99.31 L35.23 99.98 L35.31 99.84 L35.38 100.37 L35.46 100.29 L35.53 100.75 L35.6 100.57 L35.68 100.85 L35.75 100.93 L35.82 101.94 L35.9 102.19 L35.97 101.73 L36.05 102.19 L36.12 102.09 L36.19 102.29 L36.27 102.49 L36.34 102.45 L36.42 102.72 L36.49 102.9 L36.56 103.44 L36.64 102.87 L36.71 103.46 L36.78 103.34 L36.86 103.69 L36.93 103.58 L37.01 104.01 L37.08 104.12 L37.15 104.27 L37.23 104.61 L37.3 104.69 L37.37 104.69 L37.45 104.79 L37.52 105.11 L37.6 104.34 L37.67 105.3 L37.74 105.21 L37.82 104.58 L37.89 105.46 L37.97 105.17 L38.04 105.27 L38.11 105.56 L38.19 105.95 L38.26 106.05 L38.33 105.73 L38.41 105.69 L38.48 106.4 L38.56 105.89 L38.63 106.16 L38.7 105.83 L38.78 106.07 L38.85 106.38 L38.92 106.34 L39 106.29 L39.07 106.02 L39.15 105.66 L39.22 106.38 L39.29 106.49 L39.37 106.4 L39.44 106.61 L39.51 106.5 L39.59 106.61 L39.66 106.75 L39.74 106.98 L39.81 106.8 L39.88 106.66 L39.96 106.9 L40.03 106.6 L40.11 106.77 L40.18 107.07 L40.25 106.66 L40.33 107.38 L40.4 106.86 L40.47 106.73 L40.55 107.26 L40.62 107.26 L40.7 107.04 L40.77 106.95 L40.84 107.21 L40.92 107.28 L40.99 107.14 L41.06 107.32 L41.14 107.69 L41.21 107.47 L41.29 107.45 L41.36 107.82 L41.43 107.4 L41.51 107.69 L41.58 107.36 L41.66 107.9 L41.73 107.78 L41.8 107.93 L41.88 107.31 L41.95 107.33 L42.02 107.3 L42.1 107.32 L42.17 107.47 L42.25 107.48 L42.32 108.1 L42.39 107.65 L42.47 107.86 L42.54 107.83 L42.61 108.05 L42.69 107.48 L42.76 107.76 L42.84 108.16 L42.91 107.71 L42.98 107.86 L43.06 108.1 L43.13 107.94 L43.2 108.07 L43.28 108.43 L43.35 108.27 L43.43 107.82 L43.5 107.87 L43.57 107.9 L43.65 108.25 L43.72 108.13 L43.8 107.99 L43.87 107.86 L43.94 108.23 L44.02 108.29 L44.09 107.8 L44.16 108.05 L44.24 108.17 L44.31 108.26 L44.39 108.26 L44.46 107.76 L44.53 107.91 L44.61 108.24 L44.68 108.44 L44.75 107.79 L44.83 107.83 L44.9 107.92 L44.98 108.02 L45.05 108.65 L45.12 108.53 L45.2 108.12 L45.27 108.33 L45.35 108.22 L45.42 108.41 L45.49 108.46 L45.57 108.2 L45.64 108.43 L45.71 108.36 L45.79 108.31 L45.86 108.33 L45.94 108.14 L46.01 108.11 L46.08 108.74 L46.16 108.51 L46.23 108.61 L46.3 108.31 L46.38 108.74 L46.45 108.34 L46.53 108.37 L46.6 108.41 L46.67 108.78 L46.75 108.62 L46.82 108.83 L46.89 108.51 L46.97 108.4 L47.04 108.97 L47.12 108.83 L47.19 108.69 L47.26 108.79 L47.34 108.35 L47.41 108.73 L47.49 108.65 L47.56 108.97 L47.63 108.39 L47.71 108.71 L47.78 108.58 L47.85 108.74 L47.93 109.24 L48 109.14 L48.08 109.08 L48.15 108.69 L48.22 108.92 L48.3 108.72 L48.37 108.76 L48.44 108.77 L48.52 108.63 L48.59 108.8 L48.67 109.2 L48.74 108.99 L48.81 108.48 L48.89 109.08 L48.96 108.55 L49.04 108.48 L49.11 108.98 L49.18 108.77 L49.26 109.16 L49.33 108.68 L49.4 109.02 L49.48 109.14 L49.55 108.93 L49.63 108.95 L49.7 108.98 L49.77 108.8 L49.85 108.88 L49.92 108.99 L49.99 108.64 L50.07 108.31 L50.14 108.83 L50.22 109 L50.29 109.06 L50.36 108.71 L50.44 108.9 L50.51 108.83 L50.58 109.28 L50.66 109.08 L50.73 109.09 L50.81 108.62 L50.88 108.89 L50.95 109.37 L51.03 108.72 L51.1 108.57 L51.18 108.53 L51.25 109.43 L51.32 108.77 L51.4 108.63 L51.47 108.67 L51.54 108.85 L51.62 109.19 L51.69 108.88 L51.77 108.85 L51.84 108.65 L51.91 108.63 L51.99 108.82 L52.06 108.57 L52.13 108.99 L52.21 108.9 L52.28 108.74 L52.36 108.6 L52.43 108.79 L52.5 108.44 L52.58 108.61 L52.65 108.91 L52.73 108.67 L52.8 108.87 L52.87 108.88 L52.95 108.97 L53.02 108.33 L53.09 108.43" stroke="#8a9a9a" stroke-width="1" fill="none" stroke-linejoin="round" opacity="0.9"/>
<line x1="32" y1="34.1" x2="41.6" y2="34.1" stroke="#2f5566" stroke-width="1.15"/>
<text font-size="6" fill="#2a2a2a" transform="translate(44.8 36.2)" stroke="#2a2a2a" stroke-width="0.14">Control</text>
<line x1="32" y1="44.1" x2="41.6" y2="44.1" stroke="#b8243f" stroke-width="1.15"/>
<text font-size="6" fill="#2a2a2a" transform="translate(44.8 46.2)" stroke="#2a2a2a" stroke-width="0.14">OR21</text>
<line x1="32" y1="54" x2="41.6" y2="54" stroke="#72b46e" stroke-width="1.15"/>
<text font-size="6" fill="#2a2a2a" transform="translate(44.8 56.1)" stroke="#2a2a2a" stroke-width="0.14">EPZ</text>
<line x1="32" y1="64.2" x2="41.6" y2="64.2" stroke="#2a4677" stroke-width="1.15"/>
<text font-size="6" fill="#2a2a2a" transform="translate(44.8 66.3)" stroke="#2a2a2a" stroke-width="0.14">Comb</text>
<text font-size="11.8" fill="#111" transform="translate(151.5 10.1) scale(0.94 1)" font-weight="bold">H</text>
<line x1="194.9" y1="32.9" x2="194.9" y2="43.2" stroke="#7f8b99" stroke-width="1"/>
<line x1="194.9" y1="53.6" x2="194.9" y2="67.2" stroke="#7f8b99" stroke-width="1"/>
<line x1="192.9" y1="32.9" x2="196.9" y2="32.9" stroke="#4a5566" stroke-width="1"/>
<line x1="192.9" y1="67.2" x2="196.9" y2="67.2" stroke="#4a5566" stroke-width="1"/>
<rect x="188.1" y="43.2" width="13.7" height="10.4" fill="#4b586b" stroke="#36404f" stroke-width="0.6"/>
<line x1="188.4" y1="46.6" x2="201.5" y2="46.6" stroke="#1f2530" stroke-width="1.1"/>
<line x1="193.9" y1="48.4" x2="195.9" y2="48.4" stroke="#1f2530" stroke-width="0.6"/>
<line x1="194.9" y1="47.4" x2="194.9" y2="49.4" stroke="#1f2530" stroke-width="0.6"/>
<line x1="209.7" y1="48" x2="209.7" y2="63.9" stroke="#e2566c" stroke-width="1"/>
<line x1="209.7" y1="74.7" x2="209.7" y2="91.1" stroke="#e2566c" stroke-width="1"/>
<line x1="209.7" y1="35.2" x2="209.7" y2="48" stroke="#4e2a32" stroke-width="1.15"/>
<line x1="209.7" y1="91.1" x2="209.7" y2="104.8" stroke="#4e2a32" stroke-width="1.15"/>
<rect x="209.2" y="108.5" width="1" height="1" fill="#4e2a32" stroke="none" stroke-width="0"/>
<rect x="209.2" y="113.5" width="1" height="1" fill="#4e2a32" stroke="none" stroke-width="0"/>
<line x1="207.7" y1="48" x2="211.7" y2="48" stroke="#4e2a32" stroke-width="1"/>
<line x1="207.7" y1="91.1" x2="211.7" y2="91.1" stroke="#4e2a32" stroke-width="1"/>
<rect x="203" y="63.9" width="13.5" height="10.8" fill="#cc1131" stroke="#9e0d26" stroke-width="0.6"/>
<line x1="203.3" y1="69" x2="216.2" y2="69" stroke="#4a0814" stroke-width="1.1"/>
<line x1="208.7" y1="69.3" x2="210.7" y2="69.3" stroke="#4a0814" stroke-width="0.6"/>
<line x1="209.7" y1="68.3" x2="209.7" y2="70.3" stroke="#4a0814" stroke-width="0.6"/>
<line x1="224.6" y1="33.6" x2="224.6" y2="43.4" stroke="#74c86e" stroke-width="1"/>
<line x1="224.6" y1="52.5" x2="224.6" y2="67" stroke="#74c86e" stroke-width="1"/>
<line x1="224.6" y1="67" x2="224.6" y2="82.3" stroke="#2e4632" stroke-width="1.15"/>
<rect x="224.1" y="83.7" width="1" height="1" fill="#2e4632" stroke="none" stroke-width="0"/>
<rect x="224.1" y="85.9" width="1" height="1" fill="#2e4632" stroke="none" stroke-width="0"/>
<rect x="224.1" y="87.9" width="1" height="1" fill="#2e4632" stroke="none" stroke-width="0"/>
<line x1="222.6" y1="33.6" x2="226.6" y2="33.6" stroke="#2e7a2c" stroke-width="1"/>
<line x1="222.6" y1="67" x2="226.6" y2="67" stroke="#2e4632" stroke-width="1"/>
<rect x="217.6" y="43.4" width="14.3" height="9.1" fill="#45b943" stroke="#2a8f29" stroke-width="0.6"/>
<line x1="217.9" y1="45.5" x2="231.6" y2="45.5" stroke="#163f16" stroke-width="1.1"/>
<line x1="223.6" y1="47.95" x2="225.6" y2="47.95" stroke="#163f16" stroke-width="0.6"/>
<line x1="224.6" y1="46.95" x2="224.6" y2="48.95" stroke="#163f16" stroke-width="0.6"/>
<line x1="239.5" y1="40.4" x2="239.5" y2="57.4" stroke="#5479a2" stroke-width="1"/>
<line x1="239.5" y1="68.4" x2="239.5" y2="85.4" stroke="#5479a2" stroke-width="1"/>
<line x1="239.5" y1="34.1" x2="239.5" y2="40.4" stroke="#263446" stroke-width="1.15"/>
<line x1="239.5" y1="85.4" x2="239.5" y2="102.8" stroke="#263446" stroke-width="1.15"/>
<rect x="239" y="106.4" width="1" height="1" fill="#263446" stroke="none" stroke-width="0"/>
<line x1="237.5" y1="40.4" x2="241.5" y2="40.4" stroke="#263446" stroke-width="1"/>
<line x1="237.5" y1="85.4" x2="241.5" y2="85.4" stroke="#263446" stroke-width="1"/>
<rect x="232.9" y="57.4" width="13.3" height="11" fill="#184b88" stroke="#103868" stroke-width="0.6"/>
<line x1="233.2" y1="62.5" x2="245.9" y2="62.5" stroke="#0a2038" stroke-width="1.1"/>
<line x1="238.5" y1="62.9" x2="240.5" y2="62.9" stroke="#0a2038" stroke-width="0.6"/>
<line x1="239.5" y1="61.9" x2="239.5" y2="63.9" stroke="#0a2038" stroke-width="0.6"/>
<line x1="179.8" y1="30.5" x2="179.8" y2="119" stroke="#1a1a1a" stroke-width="1.1"/>
<line x1="179.3" y1="118.5" x2="255.7" y2="118.5" stroke="#1a1a1a" stroke-width="1.1"/>
<line x1="176.6" y1="118.6" x2="179.8" y2="118.6" stroke="#1a1a1a" stroke-width="1.1"/>
<text font-size="5.8" fill="#2a2a2a" transform="translate(173 120.6) scale(1.15 1)" text-anchor="end" stroke="#2a2a2a" stroke-width="0.15">0</text>
<line x1="176.6" y1="110.02" x2="179.8" y2="110.02" stroke="#1a1a1a" stroke-width="1.1"/>
<text font-size="5.8" fill="#2a2a2a" transform="translate(173 112.02) scale(1.15 1)" text-anchor="end" stroke="#2a2a2a" stroke-width="0.15">0.1</text>
<line x1="176.6" y1="101.44" x2="179.8" y2="101.44" stroke="#1a1a1a" stroke-width="1.1"/>
<text font-size="5.8" fill="#2a2a2a" transform="translate(173 103.44) scale(1.15 1)" text-anchor="end" stroke="#2a2a2a" stroke-width="0.15">0.2</text>
<line x1="176.6" y1="92.86" x2="179.8" y2="92.86" stroke="#1a1a1a" stroke-width="1.1"/>
<text font-size="5.8" fill="#2a2a2a" transform="translate(173 94.86) scale(1.15 1)" text-anchor="end" stroke="#2a2a2a" stroke-width="0.15">0.3</text>
<line x1="176.6" y1="84.28" x2="179.8" y2="84.28" stroke="#1a1a1a" stroke-width="1.1"/>
<text font-size="5.8" fill="#2a2a2a" transform="translate(173 86.28) scale(1.15 1)" text-anchor="end" stroke="#2a2a2a" stroke-width="0.15">0.4</text>
<line x1="176.6" y1="75.7" x2="179.8" y2="75.7" stroke="#1a1a1a" stroke-width="1.1"/>
<text font-size="5.8" fill="#2a2a2a" transform="translate(173 77.7) scale(1.15 1)" text-anchor="end" stroke="#2a2a2a" stroke-width="0.15">0.5</text>
<line x1="176.6" y1="67.12" x2="179.8" y2="67.12" stroke="#1a1a1a" stroke-width="1.1"/>
<text font-size="5.8" fill="#2a2a2a" transform="translate(173 69.12) scale(1.15 1)" text-anchor="end" stroke="#2a2a2a" stroke-width="0.15">0.6</text>
<line x1="176.6" y1="58.54" x2="179.8" y2="58.54" stroke="#1a1a1a" stroke-width="1.1"/>
<text font-size="5.8" fill="#2a2a2a" transform="translate(173 60.54) scale(1.15 1)" text-anchor="end" stroke="#2a2a2a" stroke-width="0.15">0.7</text>
<line x1="176.6" y1="49.96" x2="179.8" y2="49.96" stroke="#1a1a1a" stroke-width="1.1"/>
<text font-size="5.8" fill="#2a2a2a" transform="translate(173 51.96) scale(1.15 1)" text-anchor="end" stroke="#2a2a2a" stroke-width="0.15">0.8</text>
<line x1="176.6" y1="41.38" x2="179.8" y2="41.38" stroke="#1a1a1a" stroke-width="1.1"/>
<text font-size="5.8" fill="#2a2a2a" transform="translate(173 43.38) scale(1.15 1)" text-anchor="end" stroke="#2a2a2a" stroke-width="0.15">0.9</text>
<line x1="176.6" y1="32.8" x2="179.8" y2="32.8" stroke="#1a1a1a" stroke-width="1.1"/>
<text font-size="5.8" fill="#2a2a2a" transform="translate(173 34.8) scale(1.15 1)" text-anchor="end" stroke="#2a2a2a" stroke-width="0.15">1</text>
<line x1="194.9" y1="118.5" x2="194.9" y2="121.7" stroke="#1a1a1a" stroke-width="1.1"/>
<line x1="209.7" y1="118.5" x2="209.7" y2="121.7" stroke="#1a1a1a" stroke-width="1.1"/>
<line x1="224.6" y1="118.5" x2="224.6" y2="121.7" stroke="#1a1a1a" stroke-width="1.1"/>
<line x1="239.5" y1="118.5" x2="239.5" y2="121.7" stroke="#1a1a1a" stroke-width="1.1"/>
<text font-size="6.4" fill="#2a2a2a" transform="translate(194.3 129.5) rotate(-45)" text-anchor="end" stroke="#2a2a2a" stroke-width="0.15">Control</text>
<text font-size="6.4" fill="#2a2a2a" transform="translate(209.1 129.5) rotate(-45)" text-anchor="end" stroke="#2a2a2a" stroke-width="0.15">OR21</text>
<text font-size="6.4" fill="#2a2a2a" transform="translate(224 129.5) rotate(-45)" text-anchor="end" stroke="#2a2a2a" stroke-width="0.15">EPZ</text>
<text font-size="6.4" fill="#2a2a2a" transform="translate(238.9 129.5) rotate(-45)" text-anchor="end" stroke="#2a2a2a" stroke-width="0.15">Comb</text>
<text font-size="6.4" fill="#2a2a2a" textLength="20.5" lengthAdjust="spacingAndGlyphs" transform="translate(157.6 74.1) rotate(-90)" text-anchor="middle" stroke="#2a2a2a" stroke-width="0.15">β-value</text>
<text font-size="8.4" fill="#2a2a2a" textLength="82.5" lengthAdjust="spacingAndGlyphs" transform="translate(176.7 24.3)" stroke="#2a2a2a" stroke-width="0.1">hypermethylated GBs</text>
<line x1="313.6" y1="33.8" x2="313.6" y2="43.4" stroke="#7f8b99" stroke-width="1"/>
<line x1="313.6" y1="55.7" x2="313.6" y2="67.4" stroke="#7f8b99" stroke-width="1"/>
<line x1="311.6" y1="33.8" x2="315.6" y2="33.8" stroke="#4a5566" stroke-width="1"/>
<line x1="311.6" y1="67.4" x2="315.6" y2="67.4" stroke="#4a5566" stroke-width="1"/>
<rect x="306.8" y="43.4" width="13.5" height="12.3" fill="#4b586b" stroke="#36404f" stroke-width="0.6"/>
<line x1="307.1" y1="46.5" x2="320" y2="46.5" stroke="#1f2530" stroke-width="1.1"/>
<line x1="312.6" y1="49.55" x2="314.6" y2="49.55" stroke="#1f2530" stroke-width="0.6"/>
<line x1="313.6" y1="48.55" x2="313.6" y2="50.55" stroke="#1f2530" stroke-width="0.6"/>
<line x1="328.2" y1="47.5" x2="328.2" y2="63.9" stroke="#e2566c" stroke-width="1"/>
<line x1="328.2" y1="74.8" x2="328.2" y2="91.1" stroke="#e2566c" stroke-width="1"/>
<line x1="328.2" y1="37.7" x2="328.2" y2="47.5" stroke="#4e2a32" stroke-width="1.15"/>
<line x1="328.2" y1="91.1" x2="328.2" y2="100.7" stroke="#4e2a32" stroke-width="1.15"/>
<rect x="327.7" y="102.5" width="1" height="1" fill="#4e2a32" stroke="none" stroke-width="0"/>
<rect x="327.7" y="104.7" width="1" height="1" fill="#4e2a32" stroke="none" stroke-width="0"/>
<rect x="327.7" y="108.4" width="1" height="1" fill="#4e2a32" stroke="none" stroke-width="0"/>
<line x1="326.2" y1="47.5" x2="330.2" y2="47.5" stroke="#4e2a32" stroke-width="1"/>
<line x1="326.2" y1="91.1" x2="330.2" y2="91.1" stroke="#4e2a32" stroke-width="1"/>
<rect x="321.2" y="63.9" width="13.8" height="10.9" fill="#cc1131" stroke="#9e0d26" stroke-width="0.6"/>
<line x1="321.5" y1="68.4" x2="334.7" y2="68.4" stroke="#4a0814" stroke-width="1.1"/>
<line x1="327.2" y1="69.35" x2="329.2" y2="69.35" stroke="#4a0814" stroke-width="0.6"/>
<line x1="328.2" y1="68.35" x2="328.2" y2="70.35" stroke="#4a0814" stroke-width="0.6"/>
<line x1="343.4" y1="33.8" x2="343.4" y2="43.4" stroke="#74c86e" stroke-width="1"/>
<line x1="343.4" y1="55" x2="343.4" y2="74" stroke="#74c86e" stroke-width="1"/>
<rect x="342.9" y="83.4" width="1" height="1" fill="#2e4632" stroke="none" stroke-width="0"/>
<line x1="341.4" y1="33.8" x2="345.4" y2="33.8" stroke="#2e7a2c" stroke-width="1"/>
<line x1="341.4" y1="74" x2="345.4" y2="74" stroke="#2e7a2c" stroke-width="1"/>
<rect x="336.2" y="43.4" width="14.3" height="11.6" fill="#45b943" stroke="#2a8f29" stroke-width="0.6"/>
<line x1="336.5" y1="46.3" x2="350.2" y2="46.3" stroke="#163f16" stroke-width="1.1"/>
<line x1="342.4" y1="49.2" x2="344.4" y2="49.2" stroke="#163f16" stroke-width="0.6"/>
<line x1="343.4" y1="48.2" x2="343.4" y2="50.2" stroke="#163f16" stroke-width="0.6"/>
<line x1="358.3" y1="40.3" x2="358.3" y2="57.4" stroke="#5479a2" stroke-width="1"/>
<line x1="358.3" y1="69" x2="358.3" y2="86.4" stroke="#5479a2" stroke-width="1"/>
<line x1="358.3" y1="37.2" x2="358.3" y2="40.3" stroke="#263446" stroke-width="1.15"/>
<line x1="358.3" y1="86.4" x2="358.3" y2="98.6" stroke="#263446" stroke-width="1.15"/>
<rect x="357.8" y="101" width="1" height="1" fill="#263446" stroke="none" stroke-width="0"/>
<rect x="357.8" y="103.5" width="1" height="1" fill="#263446" stroke="none" stroke-width="0"/>
<rect x="357.8" y="106.3" width="1" height="1" fill="#263446" stroke="none" stroke-width="0"/>
<line x1="356.3" y1="40.3" x2="360.3" y2="40.3" stroke="#263446" stroke-width="1"/>
<line x1="356.3" y1="86.4" x2="360.3" y2="86.4" stroke="#263446" stroke-width="1"/>
<rect x="351.5" y="57.4" width="13.7" height="11.6" fill="#184b88" stroke="#103868" stroke-width="0.6"/>
<line x1="351.8" y1="62.5" x2="364.9" y2="62.5" stroke="#0a2038" stroke-width="1.1"/>
<line x1="357.3" y1="63.2" x2="359.3" y2="63.2" stroke="#0a2038" stroke-width="0.6"/>
<line x1="358.3" y1="62.2" x2="358.3" y2="64.2" stroke="#0a2038" stroke-width="0.6"/>
<line x1="298.2" y1="30.5" x2="298.2" y2="119" stroke="#1a1a1a" stroke-width="1.1"/>
<line x1="297.7" y1="118.5" x2="374" y2="118.5" stroke="#1a1a1a" stroke-width="1.1"/>
<line x1="295" y1="118.8" x2="298.2" y2="118.8" stroke="#1a1a1a" stroke-width="1.1"/>
<text font-size="5.8" fill="#2a2a2a" transform="translate(291.4 120.8) scale(1.15 1)" text-anchor="end" stroke="#2a2a2a" stroke-width="0.15">0</text>
<line x1="295" y1="110.16" x2="298.2" y2="110.16" stroke="#1a1a1a" stroke-width="1.1"/>
<text font-size="5.8" fill="#2a2a2a" transform="translate(291.4 112.16) scale(1.15 1)" text-anchor="end" stroke="#2a2a2a" stroke-width="0.15">0.1</text>
<line x1="295" y1="101.52" x2="298.2" y2="101.52" stroke="#1a1a1a" stroke-width="1.1"/>
<text font-size="5.8" fill="#2a2a2a" transform="translate(291.4 103.52) scale(1.15 1)" text-anchor="end" stroke="#2a2a2a" stroke-width="0.15">0.2</text>
<line x1="295" y1="92.88" x2="298.2" y2="92.88" stroke="#1a1a1a" stroke-width="1.1"/>
<text font-size="5.8" fill="#2a2a2a" transform="translate(291.4 94.88) scale(1.15 1)" text-anchor="end" stroke="#2a2a2a" stroke-width="0.15">0.3</text>
<line x1="295" y1="84.24" x2="298.2" y2="84.24" stroke="#1a1a1a" stroke-width="1.1"/>
<text font-size="5.8" fill="#2a2a2a" transform="translate(291.4 86.24) scale(1.15 1)" text-anchor="end" stroke="#2a2a2a" stroke-width="0.15">0.4</text>
<line x1="295" y1="75.6" x2="298.2" y2="75.6" stroke="#1a1a1a" stroke-width="1.1"/>
<text font-size="5.8" fill="#2a2a2a" transform="translate(291.4 77.6) scale(1.15 1)" text-anchor="end" stroke="#2a2a2a" stroke-width="0.15">0.5</text>
<line x1="295" y1="66.96" x2="298.2" y2="66.96" stroke="#1a1a1a" stroke-width="1.1"/>
<text font-size="5.8" fill="#2a2a2a" transform="translate(291.4 68.96) scale(1.15 1)" text-anchor="end" stroke="#2a2a2a" stroke-width="0.15">0.6</text>
<line x1="295" y1="58.32" x2="298.2" y2="58.32" stroke="#1a1a1a" stroke-width="1.1"/>
<text font-size="5.8" fill="#2a2a2a" transform="translate(291.4 60.32) scale(1.15 1)" text-anchor="end" stroke="#2a2a2a" stroke-width="0.15">0.7</text>
<line x1="295" y1="49.68" x2="298.2" y2="49.68" stroke="#1a1a1a" stroke-width="1.1"/>
<text font-size="5.8" fill="#2a2a2a" transform="translate(291.4 51.68) scale(1.15 1)" text-anchor="end" stroke="#2a2a2a" stroke-width="0.15">0.8</text>
<line x1="295" y1="41.04" x2="298.2" y2="41.04" stroke="#1a1a1a" stroke-width="1.1"/>
<text font-size="5.8" fill="#2a2a2a" transform="translate(291.4 43.04) scale(1.15 1)" text-anchor="end" stroke="#2a2a2a" stroke-width="0.15">0.9</text>
<line x1="295" y1="32.4" x2="298.2" y2="32.4" stroke="#1a1a1a" stroke-width="1.1"/>
<text font-size="5.8" fill="#2a2a2a" transform="translate(291.4 34.4) scale(1.15 1)" text-anchor="end" stroke="#2a2a2a" stroke-width="0.15">1</text>
<line x1="313.6" y1="118.5" x2="313.6" y2="121.7" stroke="#1a1a1a" stroke-width="1.1"/>
<line x1="328.3" y1="118.5" x2="328.3" y2="121.7" stroke="#1a1a1a" stroke-width="1.1"/>
<line x1="343.5" y1="118.5" x2="343.5" y2="121.7" stroke="#1a1a1a" stroke-width="1.1"/>
<line x1="358.2" y1="118.5" x2="358.2" y2="121.7" stroke="#1a1a1a" stroke-width="1.1"/>
<text font-size="6.4" fill="#2a2a2a" transform="translate(313 129.5) rotate(-45)" text-anchor="end" stroke="#2a2a2a" stroke-width="0.15">Control</text>
<text font-size="6.4" fill="#2a2a2a" transform="translate(327.7 129.5) rotate(-45)" text-anchor="end" stroke="#2a2a2a" stroke-width="0.15">OR21</text>
<text font-size="6.4" fill="#2a2a2a" transform="translate(342.9 129.5) rotate(-45)" text-anchor="end" stroke="#2a2a2a" stroke-width="0.15">EPZ</text>
<text font-size="6.4" fill="#2a2a2a" transform="translate(357.6 129.5) rotate(-45)" text-anchor="end" stroke="#2a2a2a" stroke-width="0.15">Comb</text>
<text font-size="6.4" fill="#2a2a2a" textLength="20.5" lengthAdjust="spacingAndGlyphs" transform="translate(275.2 74.4) rotate(-90)" text-anchor="middle" stroke="#2a2a2a" stroke-width="0.15">β-value</text>
<path d="M358.3 35.6 L356.8 38.6 L359.8 38.6 Z" stroke="none" stroke-width="1" fill="#263446"/>
<text font-size="8.4" fill="#2a2a2a" textLength="83" lengthAdjust="spacingAndGlyphs" transform="translate(295 13.7)" stroke="#2a2a2a" stroke-width="0.1">hypermethylated GBs</text>
<text font-size="8.4" fill="#2a2a2a" textLength="96.9" lengthAdjust="spacingAndGlyphs" transform="translate(288.1 24)" stroke="#2a2a2a" stroke-width="0.1">within TSS200/TSS1500</text>
<line x1="194.7" y1="240.7" x2="194.7" y2="250.2" stroke="#7f8b99" stroke-width="1"/>
<line x1="194.7" y1="261.1" x2="194.7" y2="265.6" stroke="#7f8b99" stroke-width="1"/>
<line x1="192.7" y1="240.7" x2="196.7" y2="240.7" stroke="#4a5566" stroke-width="1"/>
<rect x="188.2" y="250.2" width="13.3" height="10.9" fill="#4b586b" stroke="#36404f" stroke-width="0.6"/>
<line x1="188.5" y1="257.4" x2="201.2" y2="257.4" stroke="#1f2530" stroke-width="1.1"/>
<line x1="193.7" y1="255.65" x2="195.7" y2="255.65" stroke="#1f2530" stroke-width="0.6"/>
<line x1="194.7" y1="254.65" x2="194.7" y2="256.65" stroke="#1f2530" stroke-width="0.6"/>
<line x1="209.6" y1="242.5" x2="209.6" y2="253.9" stroke="#e2566c" stroke-width="1"/>
<line x1="209.6" y1="261.7" x2="209.6" y2="265.6" stroke="#e2566c" stroke-width="1"/>
<line x1="209.6" y1="221.6" x2="209.6" y2="242.5" stroke="#4e2a32" stroke-width="1.15"/>
<rect x="209.1" y="202.7" width="1" height="1" fill="#4e2a32" stroke="none" stroke-width="0"/>
<rect x="209.1" y="212.3" width="1" height="1" fill="#4e2a32" stroke="none" stroke-width="0"/>
<rect x="209.1" y="216" width="1" height="1" fill="#4e2a32" stroke="none" stroke-width="0"/>
<rect x="209.1" y="218.5" width="1" height="1" fill="#4e2a32" stroke="none" stroke-width="0"/>
<line x1="207.6" y1="242.5" x2="211.6" y2="242.5" stroke="#4e2a32" stroke-width="1"/>
<rect x="202.9" y="253.9" width="13.5" height="7.8" fill="#cc1131" stroke="#9e0d26" stroke-width="0.6"/>
<line x1="203.2" y1="258.2" x2="216.1" y2="258.2" stroke="#4a0814" stroke-width="1.1"/>
<line x1="208.6" y1="257.8" x2="210.6" y2="257.8" stroke="#4a0814" stroke-width="0.6"/>
<line x1="209.6" y1="256.8" x2="209.6" y2="258.8" stroke="#4a0814" stroke-width="0.6"/>
<line x1="224.6" y1="232.2" x2="224.6" y2="249.8" stroke="#74c86e" stroke-width="1"/>
<line x1="224.6" y1="261.1" x2="224.6" y2="265.6" stroke="#74c86e" stroke-width="1"/>
<line x1="224.6" y1="221.6" x2="224.6" y2="232.2" stroke="#2e4632" stroke-width="1.15"/>
<rect x="224.1" y="192" width="1" height="1" fill="#2e4632" stroke="none" stroke-width="0"/>
<rect x="224.1" y="205.6" width="1" height="1" fill="#2e4632" stroke="none" stroke-width="0"/>
<rect x="224.1" y="211.5" width="1" height="1" fill="#2e4632" stroke="none" stroke-width="0"/>
<rect x="224.1" y="215.1" width="1" height="1" fill="#2e4632" stroke="none" stroke-width="0"/>
<rect x="224.1" y="217.5" width="1" height="1" fill="#2e4632" stroke="none" stroke-width="0"/>
<line x1="222.6" y1="232.2" x2="226.6" y2="232.2" stroke="#2e4632" stroke-width="1"/>
<rect x="217.9" y="249.8" width="13.3" height="11.3" fill="#45b943" stroke="#2a8f29" stroke-width="0.6"/>
<line x1="218.2" y1="256.2" x2="230.9" y2="256.2" stroke="#163f16" stroke-width="1.1"/>
<line x1="223.6" y1="255.45" x2="225.6" y2="255.45" stroke="#163f16" stroke-width="0.6"/>
<line x1="224.6" y1="254.45" x2="224.6" y2="256.45" stroke="#163f16" stroke-width="0.6"/>
<line x1="239.3" y1="239.6" x2="239.3" y2="252.9" stroke="#5479a2" stroke-width="1"/>
<line x1="239.3" y1="261.7" x2="239.3" y2="265.6" stroke="#5479a2" stroke-width="1"/>
<line x1="239.3" y1="225.2" x2="239.3" y2="239.6" stroke="#263446" stroke-width="1.15"/>
<rect x="238.8" y="214.7" width="1" height="1" fill="#263446" stroke="none" stroke-width="0"/>
<rect x="238.8" y="217.1" width="1" height="1" fill="#263446" stroke="none" stroke-width="0"/>
<rect x="238.8" y="219.5" width="1" height="1" fill="#263446" stroke="none" stroke-width="0"/>
<line x1="237.3" y1="239.6" x2="241.3" y2="239.6" stroke="#263446" stroke-width="1"/>
<rect x="232.8" y="252.9" width="13.7" height="8.8" fill="#184b88" stroke="#103868" stroke-width="0.6"/>
<line x1="233.1" y1="257.2" x2="246.2" y2="257.2" stroke="#0a2038" stroke-width="1.1"/>
<line x1="238.3" y1="257.3" x2="240.3" y2="257.3" stroke="#0a2038" stroke-width="0.6"/>
<line x1="239.3" y1="256.3" x2="239.3" y2="258.3" stroke="#0a2038" stroke-width="0.6"/>
<line x1="179.7" y1="177.7" x2="179.7" y2="266.6" stroke="#1a1a1a" stroke-width="1.1"/>
<line x1="179.2" y1="266.1" x2="256" y2="266.1" stroke="#1a1a1a" stroke-width="1.1"/>
<line x1="176.5" y1="266.3" x2="179.7" y2="266.3" stroke="#1a1a1a" stroke-width="1.1"/>
<text font-size="5.8" fill="#2a2a2a" transform="translate(172.9 268.3) scale(1.15 1)" text-anchor="end" stroke="#2a2a2a" stroke-width="0.15">0</text>
<line x1="176.5" y1="257.73" x2="179.7" y2="257.73" stroke="#1a1a1a" stroke-width="1.1"/>
<text font-size="5.8" fill="#2a2a2a" transform="translate(172.9 259.73) scale(1.15 1)" text-anchor="end" stroke="#2a2a2a" stroke-width="0.15">0.1</text>
<line x1="176.5" y1="249.16" x2="179.7" y2="249.16" stroke="#1a1a1a" stroke-width="1.1"/>
<text font-size="5.8" fill="#2a2a2a" transform="translate(172.9 251.16) scale(1.15 1)" text-anchor="end" stroke="#2a2a2a" stroke-width="0.15">0.2</text>
<line x1="176.5" y1="240.59" x2="179.7" y2="240.59" stroke="#1a1a1a" stroke-width="1.1"/>
<text font-size="5.8" fill="#2a2a2a" transform="translate(172.9 242.59) scale(1.15 1)" text-anchor="end" stroke="#2a2a2a" stroke-width="0.15">0.3</text>
<line x1="176.5" y1="232.02" x2="179.7" y2="232.02" stroke="#1a1a1a" stroke-width="1.1"/>
<text font-size="5.8" fill="#2a2a2a" transform="translate(172.9 234.02) scale(1.15 1)" text-anchor="end" stroke="#2a2a2a" stroke-width="0.15">0.4</text>
<line x1="176.5" y1="223.45" x2="179.7" y2="223.45" stroke="#1a1a1a" stroke-width="1.1"/>
<text font-size="5.8" fill="#2a2a2a" transform="translate(172.9 225.45) scale(1.15 1)" text-anchor="end" stroke="#2a2a2a" stroke-width="0.15">0.5</text>
<line x1="176.5" y1="214.88" x2="179.7" y2="214.88" stroke="#1a1a1a" stroke-width="1.1"/>
<text font-size="5.8" fill="#2a2a2a" transform="translate(172.9 216.88) scale(1.15 1)" text-anchor="end" stroke="#2a2a2a" stroke-width="0.15">0.6</text>
<line x1="176.5" y1="206.31" x2="179.7" y2="206.31" stroke="#1a1a1a" stroke-width="1.1"/>
<text font-size="5.8" fill="#2a2a2a" transform="translate(172.9 208.31) scale(1.15 1)" text-anchor="end" stroke="#2a2a2a" stroke-width="0.15">0.7</text>
<line x1="176.5" y1="197.74" x2="179.7" y2="197.74" stroke="#1a1a1a" stroke-width="1.1"/>
<text font-size="5.8" fill="#2a2a2a" transform="translate(172.9 199.74) scale(1.15 1)" text-anchor="end" stroke="#2a2a2a" stroke-width="0.15">0.8</text>
<line x1="176.5" y1="189.17" x2="179.7" y2="189.17" stroke="#1a1a1a" stroke-width="1.1"/>
<text font-size="5.8" fill="#2a2a2a" transform="translate(172.9 191.17) scale(1.15 1)" text-anchor="end" stroke="#2a2a2a" stroke-width="0.15">0.9</text>
<line x1="176.5" y1="180.6" x2="179.7" y2="180.6" stroke="#1a1a1a" stroke-width="1.1"/>
<text font-size="5.8" fill="#2a2a2a" transform="translate(172.9 182.6) scale(1.15 1)" text-anchor="end" stroke="#2a2a2a" stroke-width="0.15">1</text>
<line x1="194.7" y1="266.1" x2="194.7" y2="269.3" stroke="#1a1a1a" stroke-width="1.1"/>
<line x1="209.7" y1="266.1" x2="209.7" y2="269.3" stroke="#1a1a1a" stroke-width="1.1"/>
<line x1="224.6" y1="266.1" x2="224.6" y2="269.3" stroke="#1a1a1a" stroke-width="1.1"/>
<line x1="239.3" y1="266.1" x2="239.3" y2="269.3" stroke="#1a1a1a" stroke-width="1.1"/>
<text font-size="6.4" fill="#2a2a2a" transform="translate(194.1 276.8) rotate(-45)" text-anchor="end" stroke="#2a2a2a" stroke-width="0.15">Control</text>
<text font-size="6.4" fill="#2a2a2a" transform="translate(209.1 276.8) rotate(-45)" text-anchor="end" stroke="#2a2a2a" stroke-width="0.15">OR21</text>
<text font-size="6.4" fill="#2a2a2a" transform="translate(224 276.8) rotate(-45)" text-anchor="end" stroke="#2a2a2a" stroke-width="0.15">EPZ</text>
<text font-size="6.4" fill="#2a2a2a" transform="translate(238.7 276.8) rotate(-45)" text-anchor="end" stroke="#2a2a2a" stroke-width="0.15">Comb</text>
<text font-size="6.4" fill="#2a2a2a" textLength="20.5" lengthAdjust="spacingAndGlyphs" transform="translate(157.6 222.2) rotate(-90)" text-anchor="middle" stroke="#2a2a2a" stroke-width="0.15">β-value</text>
<text font-size="8.4" fill="#2a2a2a" textLength="80.4" lengthAdjust="spacingAndGlyphs" transform="translate(178.1 172.3)" stroke="#2a2a2a" stroke-width="0.1">hypomethylated GBs</text>
<line x1="315" y1="224" x2="315" y2="245.1" stroke="#7f8b99" stroke-width="1"/>
<line x1="315" y1="258.8" x2="315" y2="265.6" stroke="#7f8b99" stroke-width="1"/>
<line x1="315" y1="214.8" x2="315" y2="224" stroke="#383c44" stroke-width="1.15"/>
<line x1="313" y1="224" x2="317" y2="224" stroke="#383c44" stroke-width="1"/>
<rect x="308.5" y="245.1" width="13.2" height="13.7" fill="#4b586b" stroke="#36404f" stroke-width="0.6"/>
<line x1="308.8" y1="254.5" x2="321.4" y2="254.5" stroke="#1f2530" stroke-width="1.1"/>
<line x1="314" y1="251.95" x2="316" y2="251.95" stroke="#1f2530" stroke-width="0.6"/>
<line x1="315" y1="250.95" x2="315" y2="252.95" stroke="#1f2530" stroke-width="0.6"/>
<line x1="329.6" y1="231.4" x2="329.6" y2="248.3" stroke="#e2566c" stroke-width="1"/>
<line x1="329.6" y1="259.4" x2="329.6" y2="265.6" stroke="#e2566c" stroke-width="1"/>
<line x1="329.6" y1="208.6" x2="329.6" y2="231.4" stroke="#4e2a32" stroke-width="1.15"/>
<rect x="329.1" y="184.6" width="1" height="1" fill="#4e2a32" stroke="none" stroke-width="0"/>
<rect x="329.1" y="192.8" width="1" height="1" fill="#4e2a32" stroke="none" stroke-width="0"/>
<rect x="329.1" y="197.9" width="1" height="1" fill="#4e2a32" stroke="none" stroke-width="0"/>
<rect x="329.1" y="201" width="1" height="1" fill="#4e2a32" stroke="none" stroke-width="0"/>
<rect x="329.1" y="204.5" width="1" height="1" fill="#4e2a32" stroke="none" stroke-width="0"/>
<line x1="327.6" y1="231.4" x2="331.6" y2="231.4" stroke="#4e2a32" stroke-width="1"/>
<rect x="323.2" y="248.3" width="12.8" height="11.1" fill="#cc1131" stroke="#9e0d26" stroke-width="0.6"/>
<line x1="323.5" y1="254.7" x2="335.7" y2="254.7" stroke="#4a0814" stroke-width="1.1"/>
<line x1="328.6" y1="253.85" x2="330.6" y2="253.85" stroke="#4a0814" stroke-width="0.6"/>
<line x1="329.6" y1="252.85" x2="329.6" y2="254.85" stroke="#4a0814" stroke-width="0.6"/>
<line x1="344" y1="223.4" x2="344" y2="244.7" stroke="#74c86e" stroke-width="1"/>
<line x1="344" y1="258.8" x2="344" y2="265.6" stroke="#74c86e" stroke-width="1"/>
<line x1="344" y1="202.5" x2="344" y2="223.4" stroke="#2e4632" stroke-width="1.15"/>
<rect x="343.5" y="192.8" width="1" height="1" fill="#2e4632" stroke="none" stroke-width="0"/>
<rect x="343.5" y="197.9" width="1" height="1" fill="#2e4632" stroke="none" stroke-width="0"/>
<rect x="343.5" y="200" width="1" height="1" fill="#2e4632" stroke="none" stroke-width="0"/>
<line x1="342" y1="223.4" x2="346" y2="223.4" stroke="#2e4632" stroke-width="1"/>
<rect x="337.3" y="244.7" width="13.5" height="14.1" fill="#45b943" stroke="#2a8f29" stroke-width="0.6"/>
<line x1="337.6" y1="254.1" x2="350.5" y2="254.1" stroke="#163f16" stroke-width="1.1"/>
<line x1="343" y1="251.75" x2="345" y2="251.75" stroke="#163f16" stroke-width="0.6"/>
<line x1="344" y1="250.75" x2="344" y2="252.75" stroke="#163f16" stroke-width="0.6"/>
<line x1="358.5" y1="229.6" x2="358.5" y2="247.9" stroke="#5479a2" stroke-width="1"/>
<line x1="358.5" y1="259.4" x2="358.5" y2="265.6" stroke="#5479a2" stroke-width="1"/>
<line x1="358.5" y1="201.5" x2="358.5" y2="229.6" stroke="#263446" stroke-width="1.15"/>
<rect x="358" y="187.7" width="1" height="1" fill="#263446" stroke="none" stroke-width="0"/>
<rect x="358" y="190.8" width="1" height="1" fill="#263446" stroke="none" stroke-width="0"/>
<rect x="358" y="198.9" width="1" height="1" fill="#263446" stroke="none" stroke-width="0"/>
<line x1="356.5" y1="229.6" x2="360.5" y2="229.6" stroke="#263446" stroke-width="1"/>
<rect x="351.9" y="247.9" width="13" height="11.5" fill="#184b88" stroke="#103868" stroke-width="0.6"/>
<line x1="352.2" y1="254.5" x2="364.6" y2="254.5" stroke="#0a2038" stroke-width="1.1"/>
<line x1="357.5" y1="253.65" x2="359.5" y2="253.65" stroke="#0a2038" stroke-width="0.6"/>
<line x1="358.5" y1="252.65" x2="358.5" y2="254.65" stroke="#0a2038" stroke-width="0.6"/>
<line x1="300.4" y1="177.7" x2="300.4" y2="266.6" stroke="#1a1a1a" stroke-width="1.1"/>
<line x1="299.9" y1="266.1" x2="376.7" y2="266.1" stroke="#1a1a1a" stroke-width="1.1"/>
<line x1="297.2" y1="265.6" x2="300.4" y2="265.6" stroke="#1a1a1a" stroke-width="1.1"/>
<text font-size="5.8" fill="#2a2a2a" transform="translate(293.6 267.6) scale(1.15 1)" text-anchor="end" stroke="#2a2a2a" stroke-width="0.15">0</text>
<line x1="297.2" y1="257.16" x2="300.4" y2="257.16" stroke="#1a1a1a" stroke-width="1.1"/>
<text font-size="5.8" fill="#2a2a2a" transform="translate(293.6 259.16) scale(1.15 1)" text-anchor="end" stroke="#2a2a2a" stroke-width="0.15">0.05</text>
<line x1="297.2" y1="248.71" x2="300.4" y2="248.71" stroke="#1a1a1a" stroke-width="1.1"/>
<text font-size="5.8" fill="#2a2a2a" transform="translate(293.6 250.71) scale(1.15 1)" text-anchor="end" stroke="#2a2a2a" stroke-width="0.15">0.1</text>
<line x1="297.2" y1="240.27" x2="300.4" y2="240.27" stroke="#1a1a1a" stroke-width="1.1"/>
<text font-size="5.8" fill="#2a2a2a" transform="translate(293.6 242.27) scale(1.15 1)" text-anchor="end" stroke="#2a2a2a" stroke-width="0.15">0.15</text>
<line x1="297.2" y1="231.82" x2="300.4" y2="231.82" stroke="#1a1a1a" stroke-width="1.1"/>
<text font-size="5.8" fill="#2a2a2a" transform="translate(293.6 233.82) scale(1.15 1)" text-anchor="end" stroke="#2a2a2a" stroke-width="0.15">0.2</text>
<line x1="297.2" y1="223.38" x2="300.4" y2="223.38" stroke="#1a1a1a" stroke-width="1.1"/>
<text font-size="5.8" fill="#2a2a2a" transform="translate(293.6 225.38) scale(1.15 1)" text-anchor="end" stroke="#2a2a2a" stroke-width="0.15">0.25</text>
<line x1="297.2" y1="214.93" x2="300.4" y2="214.93" stroke="#1a1a1a" stroke-width="1.1"/>
<text font-size="5.8" fill="#2a2a2a" transform="translate(293.6 216.93) scale(1.15 1)" text-anchor="end" stroke="#2a2a2a" stroke-width="0.15">0.3</text>
<line x1="297.2" y1="206.49" x2="300.4" y2="206.49" stroke="#1a1a1a" stroke-width="1.1"/>
<text font-size="5.8" fill="#2a2a2a" transform="translate(293.6 208.49) scale(1.15 1)" text-anchor="end" stroke="#2a2a2a" stroke-width="0.15">0.35</text>
<line x1="297.2" y1="198.04" x2="300.4" y2="198.04" stroke="#1a1a1a" stroke-width="1.1"/>
<text font-size="5.8" fill="#2a2a2a" transform="translate(293.6 200.04) scale(1.15 1)" text-anchor="end" stroke="#2a2a2a" stroke-width="0.15">0.4</text>
<line x1="297.2" y1="189.6" x2="300.4" y2="189.6" stroke="#1a1a1a" stroke-width="1.1"/>
<text font-size="5.8" fill="#2a2a2a" transform="translate(293.6 191.6) scale(1.15 1)" text-anchor="end" stroke="#2a2a2a" stroke-width="0.15">0.45</text>
<line x1="297.2" y1="181.15" x2="300.4" y2="181.15" stroke="#1a1a1a" stroke-width="1.1"/>
<text font-size="5.8" fill="#2a2a2a" transform="translate(293.6 183.15) scale(1.15 1)" text-anchor="end" stroke="#2a2a2a" stroke-width="0.15">0.5</text>
<line x1="315" y1="266.1" x2="315" y2="269.3" stroke="#1a1a1a" stroke-width="1.1"/>
<line x1="329.6" y1="266.1" x2="329.6" y2="269.3" stroke="#1a1a1a" stroke-width="1.1"/>
<line x1="344" y1="266.1" x2="344" y2="269.3" stroke="#1a1a1a" stroke-width="1.1"/>
<line x1="358.5" y1="266.1" x2="358.5" y2="269.3" stroke="#1a1a1a" stroke-width="1.1"/>
<text font-size="6.4" fill="#2a2a2a" transform="translate(314.4 276.8) rotate(-45)" text-anchor="end" stroke="#2a2a2a" stroke-width="0.15">Control</text>
<text font-size="6.4" fill="#2a2a2a" transform="translate(329 276.8) rotate(-45)" text-anchor="end" stroke="#2a2a2a" stroke-width="0.15">OR21</text>
<text font-size="6.4" fill="#2a2a2a" transform="translate(343.4 276.8) rotate(-45)" text-anchor="end" stroke="#2a2a2a" stroke-width="0.15">EPZ</text>
<text font-size="6.4" fill="#2a2a2a" transform="translate(357.9 276.8) rotate(-45)" text-anchor="end" stroke="#2a2a2a" stroke-width="0.15">Comb</text>
<text font-size="6.4" fill="#2a2a2a" textLength="20.5" lengthAdjust="spacingAndGlyphs" transform="translate(276.3 222.2) rotate(-90)" text-anchor="middle" stroke="#2a2a2a" stroke-width="0.15">β-value</text>
<text font-size="8.4" fill="#2a2a2a" textLength="80.3" lengthAdjust="spacingAndGlyphs" transform="translate(298.9 161.7)" stroke="#2a2a2a" stroke-width="0.1">hypomethylated GBs</text>
<text font-size="8.4" fill="#2a2a2a" textLength="96.9" lengthAdjust="spacingAndGlyphs" transform="translate(290.4 172)" stroke="#2a2a2a" stroke-width="0.1">within TSS200/TSS1500</text>
<path d="M408.6 79.2 V85.4 Q408.6 87.3 406.6 87.3 H405.4" stroke="#111" stroke-width="2" fill="none"/>
<line x1="432.6" y1="108.5" x2="432.6" y2="187.8" stroke="#1a1a1a" stroke-width="1.1"/>
<line x1="432.1" y1="187.3" x2="516" y2="187.3" stroke="#1a1a1a" stroke-width="1.1"/>
<line x1="429.6" y1="184.3" x2="432.6" y2="184.3" stroke="#1a1a1a" stroke-width="1.1"/>
<text font-size="5.9" fill="#2a2a2a" transform="translate(426.4 186.3) scale(1.05 1)" text-anchor="end" stroke="#2a2a2a" stroke-width="0.15">0.0</text>
<line x1="429.6" y1="169.52" x2="432.6" y2="169.52" stroke="#1a1a1a" stroke-width="1.1"/>
<text font-size="5.9" fill="#2a2a2a" transform="translate(426.4 171.52) scale(1.05 1)" text-anchor="end" stroke="#2a2a2a" stroke-width="0.15">0.2</text>
<line x1="429.6" y1="154.74" x2="432.6" y2="154.74" stroke="#1a1a1a" stroke-width="1.1"/>
<text font-size="5.9" fill="#2a2a2a" transform="translate(426.4 156.74) scale(1.05 1)" text-anchor="end" stroke="#2a2a2a" stroke-width="0.15">0.4</text>
<line x1="429.6" y1="139.96" x2="432.6" y2="139.96" stroke="#1a1a1a" stroke-width="1.1"/>
<text font-size="5.9" fill="#2a2a2a" transform="translate(426.4 141.96) scale(1.05 1)" text-anchor="end" stroke="#2a2a2a" stroke-width="0.15">0.6</text>
<line x1="429.6" y1="125.18" x2="432.6" y2="125.18" stroke="#1a1a1a" stroke-width="1.1"/>
<text font-size="5.9" fill="#2a2a2a" transform="translate(426.4 127.18) scale(1.05 1)" text-anchor="end" stroke="#2a2a2a" stroke-width="0.15">0.8</text>
<line x1="429.6" y1="110.4" x2="432.6" y2="110.4" stroke="#1a1a1a" stroke-width="1.1"/>
<text font-size="5.9" fill="#2a2a2a" transform="translate(426.4 112.4) scale(1.05 1)" text-anchor="end" stroke="#2a2a2a" stroke-width="0.15">1.0</text>
<line x1="446.5" y1="187.3" x2="446.5" y2="190.3" stroke="#1a1a1a" stroke-width="1.1"/>
<text font-size="6.4" fill="#2a2a2a" transform="translate(445.7 199.6) rotate(-45)" text-anchor="end" stroke="#2a2a2a" stroke-width="0.15">Control</text>
<line x1="466.9" y1="187.3" x2="466.9" y2="190.3" stroke="#1a1a1a" stroke-width="1.1"/>
<text font-size="6.4" fill="#2a2a2a" transform="translate(466.1 199.6) rotate(-45)" text-anchor="end" stroke="#2a2a2a" stroke-width="0.15">OR21</text>
<line x1="487.4" y1="187.3" x2="487.4" y2="190.3" stroke="#1a1a1a" stroke-width="1.1"/>
<text font-size="6.4" fill="#2a2a2a" transform="translate(486.6 199.6) rotate(-45)" text-anchor="end" stroke="#2a2a2a" stroke-width="0.15">EPZ</text>
<line x1="508.1" y1="187.3" x2="508.1" y2="190.3" stroke="#1a1a1a" stroke-width="1.1"/>
<text font-size="6.4" fill="#2a2a2a" transform="translate(507.3 199.6) rotate(-45)" text-anchor="end" stroke="#2a2a2a" stroke-width="0.15">Comb</text>
<text font-size="5.6" fill="#2a2a2a" textLength="16.5" lengthAdjust="spacingAndGlyphs" transform="translate(408.9 147.4) scale(1.2 1) rotate(-90)" text-anchor="middle" stroke="#2a2a2a" stroke-width="0.15">β-value</text>
<path d="M441 112.3 L439.9 113.21 L439.41 114.13 L439.1 115.04 L438.91 115.96 L438.77 116.87 L438.65 117.78 L438.55 118.7 L438.51 119.61 L438.51 120.53 L438.58 121.44 L438.68 122.35 L438.82 123.27 L438.95 124.18 L439.09 125.09 L439.26 126.01 L439.44 126.92 L439.64 127.84 L439.84 128.75 L440.03 129.66 L440.22 130.58 L440.4 131.49 L440.59 132.41 L440.78 133.32 L440.96 134.23 L441.13 135.15 L441.3 136.06 L441.45 136.98 L441.61 137.89 L441.76 138.8 L441.94 139.72 L442.13 140.63 L442.32 141.55 L442.48 142.46 L442.63 143.37 L442.79 144.29 L442.93 145.2 L443.07 146.12 L443.19 147.03 L443.3 147.94 L443.39 148.86 L443.46 149.77 L443.52 150.68 L443.58 151.6 L443.63 152.51 L443.68 153.43 L443.72 154.34 L443.76 155.25 L443.81 156.17 L443.85 157.08 L443.89 158 L443.93 158.91 L443.96 159.82 L444 160.74 L444.04 161.65 L444.08 162.57 L444.13 163.48 L444.19 164.39 L444.25 165.31 L444.32 166.22 L444.39 167.14 L444.44 168.05 L444.48 168.96 L444.5 169.88 L444.49 170.79 L444.46 171.71 L444.42 172.62 L444.36 173.53 L444.3 174.45 L444.24 175.36 L444.18 176.27 L444.1 177.19 L444 178.1 L443.91 179.02 L443.84 179.93 L443.8 180.84 L443.81 181.76 L443.85 182.67 L443.91 183.59 L444 184.5 L448.8 184.5 L448.89 183.59 L448.95 182.67 L448.99 181.76 L449 180.84 L448.96 179.93 L448.89 179.02 L448.8 178.1 L448.7 177.19 L448.62 176.27 L448.56 175.36 L448.5 174.45 L448.44 173.53 L448.38 172.62 L448.34 171.71 L448.31 170.79 L448.3 169.88 L448.32 168.96 L448.36 168.05 L448.41 167.14 L448.48 166.22 L448.55 165.31 L448.61 164.39 L448.67 163.48 L448.72 162.57 L448.76 161.65 L448.8 160.74 L448.84 159.82 L448.87 158.91 L448.91 158 L448.95 157.08 L448.99 156.17 L449.04 155.25 L449.08 154.34 L449.12 153.43 L449.17 152.51 L449.22 151.6 L449.28 150.68 L449.34 149.77 L449.41 148.86 L449.5 147.94 L449.61 147.03 L449.73 146.12 L449.87 145.2 L450.01 144.29 L450.17 143.37 L450.32 142.46 L450.48 141.55 L450.67 140.63 L450.86 139.72 L451.04 138.8 L451.19 137.89 L451.35 136.98 L451.5 136.06 L451.67 135.15 L451.84 134.23 L452.02 133.32 L452.21 132.41 L452.4 131.49 L452.58 130.58 L452.77 129.66 L452.96 128.75 L453.16 127.84 L453.36 126.92 L453.54 126.01 L453.71 125.09 L453.85 124.18 L453.98 123.27 L454.12 122.35 L454.22 121.44 L454.29 120.53 L454.29 119.61 L454.25 118.7 L454.15 117.78 L454.03 116.87 L453.89 115.96 L453.7 115.04 L453.39 114.13 L452.9 113.21 L451.8 112.3 Z" stroke="#4b5b72" stroke-width="0.5" fill="#4b5b72"/>
<line x1="446.4" y1="113.5" x2="446.4" y2="179" stroke="#151515" stroke-width="0.85"/>
<line x1="446.4" y1="118" x2="446.4" y2="150" stroke="#111" stroke-width="1"/>
<circle cx="446.4" cy="128.4" r="0.75" fill="#ffffff" stroke="none" stroke-width="0"/>
<path d="M466.3 120.6 L465.74 121.41 L465.25 122.22 L464.85 123.03 L464.49 123.84 L464.17 124.64 L463.88 125.45 L463.62 126.26 L463.37 127.07 L463.15 127.88 L462.94 128.69 L462.73 129.5 L462.52 130.31 L462.3 131.12 L462.08 131.92 L461.86 132.73 L461.65 133.54 L461.45 134.35 L461.26 135.16 L461.08 135.97 L460.9 136.78 L460.72 137.59 L460.56 138.39 L460.42 139.2 L460.3 140.01 L460.19 140.82 L460.08 141.63 L459.97 142.44 L459.89 143.25 L459.83 144.06 L459.8 144.87 L459.82 145.67 L459.89 146.48 L460.01 147.29 L460.14 148.1 L460.3 148.91 L460.45 149.72 L460.6 150.53 L460.78 151.34 L460.98 152.15 L461.2 152.95 L461.42 153.76 L461.64 154.57 L461.85 155.38 L462.04 156.19 L462.24 157 L462.43 157.81 L462.63 158.62 L462.81 159.43 L462.97 160.23 L463.11 161.04 L463.23 161.85 L463.35 162.66 L463.46 163.47 L463.56 164.28 L463.64 165.09 L463.69 165.9 L463.74 166.71 L463.78 167.51 L463.81 168.32 L463.84 169.13 L463.87 169.94 L463.89 170.75 L463.9 171.56 L463.9 172.37 L463.9 173.18 L463.9 173.98 L463.9 174.79 L463.9 175.6 L463.9 176.41 L463.9 177.22 L463.9 178.03 L463.89 178.84 L463.86 179.65 L463.83 180.46 L463.81 181.26 L463.8 182.07 L463.82 182.88 L463.85 183.69 L463.9 184.5 L469.9 184.5 L469.95 183.69 L469.98 182.88 L470 182.07 L469.99 181.26 L469.97 180.46 L469.94 179.65 L469.91 178.84 L469.9 178.03 L469.9 177.22 L469.9 176.41 L469.9 175.6 L469.9 174.79 L469.9 173.98 L469.9 173.18 L469.9 172.37 L469.9 171.56 L469.91 170.75 L469.93 169.94 L469.96 169.13 L469.99 168.32 L470.02 167.51 L470.06 166.71 L470.11 165.9 L470.16 165.09 L470.24 164.28 L470.34 163.47 L470.45 162.66 L470.57 161.85 L470.69 161.04 L470.83 160.23 L470.99 159.43 L471.17 158.62 L471.37 157.81 L471.56 157 L471.76 156.19 L471.95 155.38 L472.16 154.57 L472.38 153.76 L472.6 152.95 L472.82 152.15 L473.02 151.34 L473.2 150.53 L473.35 149.72 L473.5 148.91 L473.66 148.1 L473.79 147.29 L473.91 146.48 L473.98 145.67 L474 144.87 L473.97 144.06 L473.91 143.25 L473.83 142.44 L473.72 141.63 L473.61 140.82 L473.5 140.01 L473.38 139.2 L473.24 138.39 L473.08 137.59 L472.9 136.78 L472.72 135.97 L472.54 135.16 L472.35 134.35 L472.15 133.54 L471.94 132.73 L471.72 131.92 L471.5 131.12 L471.28 130.31 L471.07 129.5 L470.86 128.69 L470.65 127.88 L470.43 127.07 L470.18 126.26 L469.92 125.45 L469.63 124.64 L469.31 123.84 L468.95 123.03 L468.55 122.22 L468.06 121.41 L467.5 120.6 Z" stroke="#c8102e" stroke-width="0.5" fill="#c8102e"/>
<line x1="466.9" y1="123.5" x2="466.9" y2="182.5" stroke="#151515" stroke-width="0.85"/>
<line x1="466.9" y1="136" x2="466.9" y2="160" stroke="#111" stroke-width="1"/>
<circle cx="466.9" cy="148.5" r="0.75" fill="#ffffff" stroke="none" stroke-width="0"/>
<path d="M482 112.6 L480.98 113.51 L480.36 114.42 L479.95 115.33 L479.66 116.24 L479.46 117.15 L479.29 118.06 L479.16 118.97 L479.1 119.88 L479.13 120.79 L479.22 121.7 L479.36 122.61 L479.52 123.52 L479.69 124.43 L479.86 125.34 L480.07 126.25 L480.31 127.16 L480.56 128.07 L480.81 128.98 L481.07 129.89 L481.33 130.8 L481.61 131.71 L481.9 132.62 L482.17 133.53 L482.42 134.44 L482.67 135.35 L482.91 136.26 L483.12 137.17 L483.32 138.08 L483.49 138.99 L483.65 139.9 L483.8 140.81 L483.94 141.72 L484.06 142.63 L484.16 143.54 L484.26 144.45 L484.35 145.36 L484.43 146.27 L484.5 147.18 L484.56 148.09 L484.6 149.01 L484.63 149.92 L484.66 150.83 L484.68 151.74 L484.7 152.65 L484.72 153.56 L484.74 154.47 L484.76 155.38 L484.77 156.29 L484.78 157.2 L484.79 158.11 L484.8 159.02 L484.8 159.93 L484.8 160.84 L484.8 161.75 L484.8 162.66 L484.8 163.57 L484.8 164.48 L484.8 165.39 L484.8 166.3 L484.8 167.21 L484.8 168.12 L484.8 169.03 L484.8 169.94 L484.8 170.85 L484.79 171.76 L484.77 172.67 L484.76 173.58 L484.74 174.49 L484.72 175.4 L484.71 176.31 L484.7 177.22 L484.7 178.13 L484.7 179.04 L484.7 179.95 L484.7 180.86 L484.7 181.77 L484.7 182.68 L484.7 183.59 L484.7 184.5 L490.1 184.5 L490.1 183.59 L490.1 182.68 L490.1 181.77 L490.1 180.86 L490.1 179.95 L490.1 179.04 L490.1 178.13 L490.1 177.22 L490.09 176.31 L490.08 175.4 L490.06 174.49 L490.04 173.58 L490.03 172.67 L490.01 171.76 L490 170.85 L490 169.94 L490 169.03 L490 168.12 L490 167.21 L490 166.3 L490 165.39 L490 164.48 L490 163.57 L490 162.66 L490 161.75 L490 160.84 L490 159.93 L490 159.02 L490.01 158.11 L490.02 157.2 L490.03 156.29 L490.04 155.38 L490.06 154.47 L490.08 153.56 L490.1 152.65 L490.12 151.74 L490.14 150.83 L490.17 149.92 L490.2 149.01 L490.24 148.09 L490.3 147.18 L490.37 146.27 L490.45 145.36 L490.54 144.45 L490.64 143.54 L490.74 142.63 L490.86 141.72 L491 140.81 L491.15 139.9 L491.31 138.99 L491.48 138.08 L491.68 137.17 L491.89 136.26 L492.13 135.35 L492.38 134.44 L492.63 133.53 L492.9 132.62 L493.19 131.71 L493.47 130.8 L493.73 129.89 L493.99 128.98 L494.24 128.07 L494.49 127.16 L494.73 126.25 L494.94 125.34 L495.11 124.43 L495.28 123.52 L495.44 122.61 L495.58 121.7 L495.67 120.79 L495.7 119.88 L495.64 118.97 L495.51 118.06 L495.34 117.15 L495.14 116.24 L494.85 115.33 L494.44 114.42 L493.82 113.51 L492.8 112.6 Z" stroke="#3aab34" stroke-width="0.5" fill="#3aab34"/>
<line x1="487.4" y1="113.5" x2="487.4" y2="182.5" stroke="#151515" stroke-width="0.85"/>
<line x1="487.4" y1="116" x2="487.4" y2="150" stroke="#111" stroke-width="1"/>
<circle cx="487.4" cy="128.5" r="0.75" fill="#ffffff" stroke="none" stroke-width="0"/>
<path d="M507.3 118.6 L506.61 119.43 L505.98 120.27 L505.44 121.1 L504.96 121.94 L504.53 122.77 L504.13 123.61 L503.75 124.44 L503.38 125.27 L503 126.11 L502.63 126.94 L502.27 127.78 L501.95 128.61 L501.66 129.44 L501.42 130.28 L501.19 131.11 L500.97 131.95 L500.77 132.78 L500.61 133.62 L500.52 134.45 L500.5 135.28 L500.52 136.12 L500.56 136.95 L500.61 137.79 L500.67 138.62 L500.74 139.45 L500.86 140.29 L501.02 141.12 L501.21 141.96 L501.41 142.79 L501.61 143.63 L501.81 144.46 L502.02 145.29 L502.25 146.13 L502.49 146.96 L502.73 147.8 L502.96 148.63 L503.17 149.46 L503.37 150.3 L503.56 151.13 L503.75 151.97 L503.94 152.8 L504.11 153.64 L504.27 154.47 L504.41 155.3 L504.52 156.14 L504.61 156.97 L504.7 157.81 L504.79 158.64 L504.86 159.47 L504.92 160.31 L504.97 161.14 L505 161.98 L505.02 162.81 L505.03 163.65 L505.05 164.48 L505.06 165.31 L505.07 166.15 L505.08 166.98 L505.09 167.82 L505.1 168.65 L505.1 169.48 L505.1 170.32 L505.1 171.15 L505.09 171.99 L505.08 172.82 L505.07 173.66 L505.06 174.49 L505.04 175.32 L505.03 176.16 L505.02 176.99 L505 177.83 L504.99 178.66 L504.98 179.49 L504.97 180.33 L504.95 181.16 L504.94 182 L504.93 182.83 L504.91 183.67 L504.9 184.5 L511.3 184.5 L511.29 183.67 L511.27 182.83 L511.26 182 L511.25 181.16 L511.23 180.33 L511.22 179.49 L511.21 178.66 L511.2 177.83 L511.18 176.99 L511.17 176.16 L511.16 175.32 L511.14 174.49 L511.13 173.66 L511.12 172.82 L511.11 171.99 L511.1 171.15 L511.1 170.32 L511.1 169.48 L511.1 168.65 L511.11 167.82 L511.12 166.98 L511.13 166.15 L511.14 165.31 L511.15 164.48 L511.17 163.65 L511.18 162.81 L511.2 161.98 L511.23 161.14 L511.28 160.31 L511.34 159.47 L511.41 158.64 L511.5 157.81 L511.59 156.97 L511.68 156.14 L511.79 155.3 L511.93 154.47 L512.09 153.64 L512.26 152.8 L512.45 151.97 L512.64 151.13 L512.83 150.3 L513.03 149.46 L513.24 148.63 L513.47 147.8 L513.71 146.96 L513.95 146.13 L514.18 145.29 L514.39 144.46 L514.59 143.63 L514.79 142.79 L514.99 141.96 L515.18 141.12 L515.34 140.29 L515.46 139.45 L515.53 138.62 L515.59 137.79 L515.64 136.95 L515.68 136.12 L515.7 135.28 L515.68 134.45 L515.59 133.62 L515.43 132.78 L515.23 131.95 L515.01 131.11 L514.78 130.28 L514.54 129.44 L514.25 128.61 L513.93 127.78 L513.57 126.94 L513.2 126.11 L512.82 125.27 L512.45 124.44 L512.07 123.61 L511.67 122.77 L511.24 121.94 L510.76 121.1 L510.22 120.27 L509.59 119.43 L508.9 118.6 Z" stroke="#14508f" stroke-width="0.5" fill="#14508f"/>
<line x1="508.1" y1="121" x2="508.1" y2="182" stroke="#151515" stroke-width="0.85"/>
<line x1="508.1" y1="132" x2="508.1" y2="155" stroke="#111" stroke-width="1"/>
<circle cx="508.1" cy="142.9" r="0.75" fill="#ffffff" stroke="none" stroke-width="0"/>
<line x1="446.2" y1="101.8" x2="508.7" y2="101.8" stroke="#626262" stroke-width="1.25"/>
<line x1="446.2" y1="105.3" x2="487.3" y2="105.3" stroke="#3e3e3e" stroke-width="1.25"/>
<line x1="446.2" y1="108.9" x2="467.6" y2="108.9" stroke="#555555" stroke-width="1.25"/>
<circle cx="475.4" cy="97.4" r="1.25" fill="#1e1e1e" stroke="none" stroke-width="0"/>
<circle cx="478.9" cy="97.4" r="1.25" fill="#1e1e1e" stroke="none" stroke-width="0"/>
<circle cx="457.5" cy="112.8" r="1.25" fill="#1e1e1e" stroke="none" stroke-width="0"/>
<circle cx="460.8" cy="112.8" r="1.25" fill="#1e1e1e" stroke="none" stroke-width="0"/>
<text font-size="5.8" fill="#444" transform="translate(476 109.6)" text-anchor="middle" stroke="#444" stroke-width="0.1">n.s.</text>
<text font-size="11.4" fill="#111" transform="translate(0.6 165.3)" font-weight="bold" stroke="#111" stroke-width="0.15">I</text>
<text font-size="8.8" fill="#2a2a2a" textLength="19" lengthAdjust="spacingAndGlyphs" transform="translate(39.6 186.9)" stroke="#2a2a2a" stroke-width="0.12">MT-1</text>
<text font-size="8.8" fill="#2a2a2a" textLength="18.2" lengthAdjust="spacingAndGlyphs" transform="translate(101.9 186.9)" stroke="#2a2a2a" stroke-width="0.12">MT-2</text>
<defs><clipPath id="cA"><ellipse cx="68.6" cy="209.2" rx="23.9" ry="22.1"/></clipPath></defs>
<ellipse cx="68.6" cy="209.2" rx="23.4" ry="21.6" fill="#7284b6" stroke="#324d94" stroke-width="1.0"/>
<ellipse cx="98.8" cy="209.1" rx="18.5" ry="17.0" fill="#a4d68e" stroke="#45a842" stroke-width="1.0"/>
<ellipse cx="98.8" cy="209.1" rx="18.5" ry="17.0" fill="#5f9c72" stroke="#3a8a4c" stroke-width="1.0" clip-path="url(#cA)"/>
<text font-size="6.6" fill="#2a2a2a" textLength="15.6" lengthAdjust="spacingAndGlyphs" transform="translate(66.1 212.6)" text-anchor="middle" stroke="#2a2a2a" stroke-width="0.15">1,272</text>
<text font-size="6.6" fill="#2a2a2a" textLength="10.6" lengthAdjust="spacingAndGlyphs" transform="translate(100.3 212.6)" text-anchor="middle" stroke="#2a2a2a" stroke-width="0.15">552</text>
<line x1="87.8" y1="208.5" x2="87.8" y2="232" stroke="#1a1a1a" stroke-width="0.9"/>
<path d="M86.3 231.5 L89.3 231.5 L87.8 235.3 Z" stroke="none" stroke-width="1" fill="#1a1a1a"/>
<text font-size="6.7" fill="#2a2a2a" textLength="30.2" lengthAdjust="spacingAndGlyphs" transform="translate(88 242.6)" text-anchor="middle" stroke="#2a2a2a" stroke-width="0.12">158 genes</text>
<line x1="86.8" y1="254.5" x2="86.8" y2="277" stroke="#1a1a1a" stroke-width="0.9"/>
<path d="M85.3 276.6 L88.3 276.6 L86.8 280.4 Z" stroke="none" stroke-width="1" fill="#1a1a1a"/>
<text font-size="6.7" fill="#2a2a2a" textLength="25.8" lengthAdjust="spacingAndGlyphs" transform="translate(88 289.3)" text-anchor="middle" stroke="#2a2a2a" stroke-width="0.12">29 genes</text>
<text font-size="6.7" fill="#2a2a2a" textLength="65.8" lengthAdjust="spacingAndGlyphs" transform="translate(9 254.2)" stroke="#2a2a2a" stroke-width="0.12">Expression of ATL cells</text>
<text font-size="6.7" fill="#2a2a2a" textLength="83.4" lengthAdjust="spacingAndGlyphs" transform="translate(-0.2 261.6)" stroke="#2a2a2a" stroke-width="0.12">compared with normal T cells</text>
<text font-size="6.7" fill="#2a2a2a" textLength="20.9" lengthAdjust="spacingAndGlyphs" transform="translate(29.3 269.1)" stroke="#2a2a2a" stroke-width="0.12">&lt;0.5 fold</text>
<text font-size="6.7" fill="#2a2a2a" textLength="79.1" lengthAdjust="spacingAndGlyphs" transform="translate(2.2 277.6)" stroke="#2a2a2a" stroke-width="0.12">Expression of normal T cells</text>
<text font-size="6.7" fill="#2a2a2a" textLength="13.7" lengthAdjust="spacingAndGlyphs" transform="translate(35.6 285.3)" stroke="#2a2a2a" stroke-width="0.12">&gt;100</text>
<text font-size="6.7" fill="#2a2a2a" textLength="25.3" lengthAdjust="spacingAndGlyphs" transform="translate(103 265.6)" stroke="#2a2a2a" stroke-width="0.12">analyzed</text>
<text font-size="6.7" fill="#2a2a2a" textLength="50.6" lengthAdjust="spacingAndGlyphs" transform="translate(90.2 273.3)" stroke="#2a2a2a" stroke-width="0.12">using GSE33615</text>
</svg>
</body></html>
